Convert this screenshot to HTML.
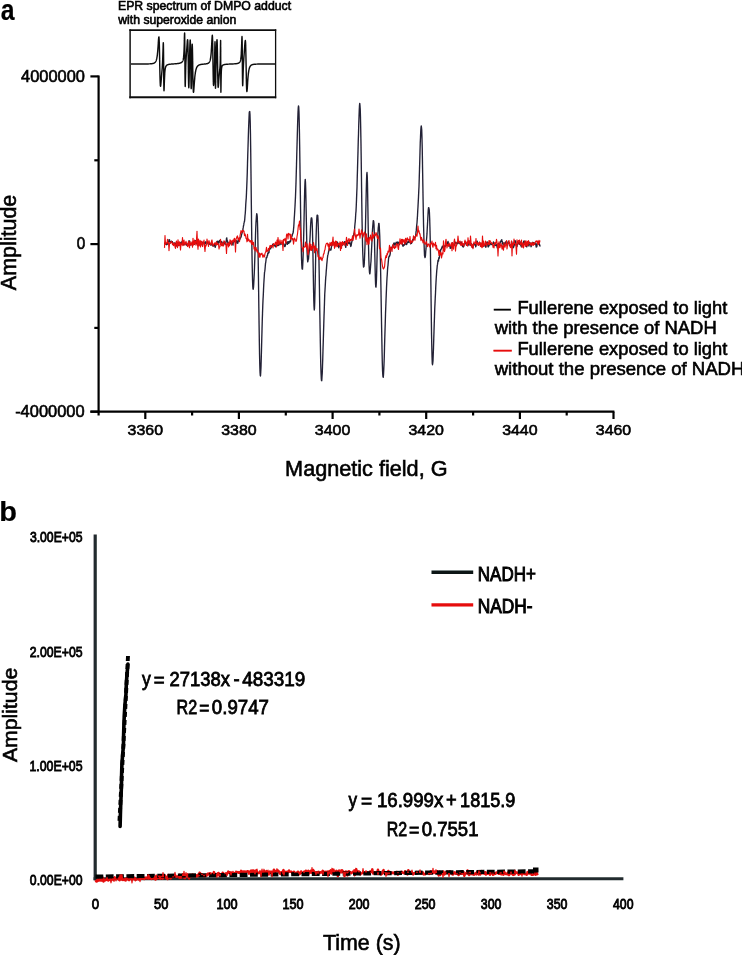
<!DOCTYPE html>
<html><head><meta charset="utf-8"><title>EPR figure</title>
<style>html,body{margin:0;padding:0;background:#fff;}svg{display:block;}</style>
</head><body>
<svg width="742" height="955" viewBox="0 0 742 955"><defs><filter id="soft" x="0" y="0" width="100%" height="100%"><feGaussianBlur stdDeviation="0.4"/></filter></defs><rect width="742" height="955" fill="#fff"/><g filter="url(#soft)"><g font-family='"Liberation Sans", sans-serif' fill="#000" stroke="#000" stroke-width="0.6"><text x="0.67" y="20.3" font-size="30.0" font-weight="bold" textLength="13.77" lengthAdjust="spacingAndGlyphs" stroke-width="0.2">a</text><text x="-0.71" y="521.4" font-size="27.5" font-weight="bold" textLength="17.7" lengthAdjust="spacingAndGlyphs" stroke-width="0.2">b</text><text x="117.99" y="9.7" font-size="12.3" textLength="173.1" lengthAdjust="spacingAndGlyphs">EPR spectrum of DMPO adduct</text><text x="118.32" y="24.0" font-size="12.3" textLength="117.97" lengthAdjust="spacingAndGlyphs">with superoxide anion</text></g><g stroke="#111" fill="none"><line x1="129.3" y1="30.1" x2="276.2" y2="30.1" stroke-width="1.7"/><line x1="129.3" y1="97.3" x2="276.2" y2="97.3" stroke-width="2.1"/><line x1="130.1" y1="29.3" x2="130.1" y2="98.3" stroke-width="1.5"/><line x1="275.6" y1="29.3" x2="275.6" y2="98.3" stroke-width="1.3"/></g><polyline points="131.00,63.99 131.10,63.99 131.20,63.99 131.30,63.99 131.40,63.99 131.50,63.99 131.60,63.99 131.70,63.99 131.80,63.99 131.90,63.99 132.00,63.99 132.10,63.99 132.20,63.99 132.30,63.99 132.40,63.99 132.50,63.99 132.60,63.99 132.70,63.99 132.80,63.99 132.90,63.99 133.00,63.99 133.10,63.99 133.20,63.99 133.30,63.99 133.40,63.99 133.50,63.99 133.60,63.99 133.70,63.99 133.80,63.99 133.90,63.99 134.00,63.99 134.10,63.99 134.20,63.99 134.30,63.99 134.40,63.99 134.50,63.99 134.60,63.99 134.70,63.99 134.80,63.99 134.90,63.99 135.00,63.99 135.10,63.99 135.20,63.99 135.30,63.99 135.40,63.99 135.50,63.99 135.60,63.99 135.70,63.99 135.80,63.99 135.90,63.99 136.00,63.99 136.10,63.99 136.20,63.99 136.30,63.99 136.40,63.99 136.50,63.99 136.60,63.99 136.70,63.99 136.80,63.99 136.90,63.99 137.00,63.99 137.10,63.99 137.20,63.99 137.30,63.99 137.40,63.99 137.50,63.99 137.60,63.99 137.70,63.99 137.80,63.99 137.90,63.99 138.00,63.99 138.10,63.99 138.20,63.99 138.30,63.99 138.40,63.99 138.50,63.99 138.60,63.99 138.70,63.99 138.80,63.99 138.90,63.99 139.00,63.99 139.10,63.98 139.20,63.98 139.30,63.98 139.40,63.98 139.50,63.98 139.60,63.98 139.70,63.98 139.80,63.98 139.90,63.98 140.00,63.98 140.10,63.98 140.20,63.98 140.30,63.98 140.40,63.98 140.50,63.98 140.60,63.98 140.70,63.98 140.80,63.98 140.90,63.98 141.00,63.98 141.10,63.98 141.20,63.98 141.30,63.98 141.40,63.98 141.50,63.98 141.60,63.98 141.70,63.98 141.80,63.98 141.90,63.98 142.00,63.98 142.10,63.98 142.20,63.98 142.30,63.98 142.40,63.98 142.50,63.97 142.60,63.97 142.70,63.97 142.80,63.97 142.90,63.97 143.00,63.97 143.10,63.97 143.20,63.97 143.30,63.97 143.40,63.97 143.50,63.97 143.60,63.97 143.70,63.97 143.80,63.97 143.90,63.97 144.00,63.97 144.10,63.97 144.20,63.97 144.30,63.96 144.40,63.96 144.50,63.96 144.60,63.96 144.70,63.96 144.80,63.96 144.90,63.96 145.00,63.96 145.10,63.96 145.20,63.96 145.30,63.96 145.40,63.96 145.50,63.95 145.60,63.95 145.70,63.95 145.80,63.95 145.90,63.95 146.00,63.95 146.10,63.95 146.20,63.95 146.30,63.95 146.40,63.94 146.50,63.94 146.60,63.94 146.70,63.94 146.80,63.94 146.90,63.94 147.00,63.93 147.10,63.93 147.20,63.93 147.30,63.93 147.40,63.93 147.50,63.93 147.60,63.92 147.70,63.92 147.80,63.92 147.90,63.92 148.00,63.91 148.10,63.91 148.20,63.91 148.30,63.91 148.40,63.90 148.50,63.90 148.60,63.90 148.70,63.90 148.80,63.89 148.90,63.89 149.00,63.89 149.10,63.88 149.20,63.88 149.30,63.87 149.40,63.87 149.50,63.87 149.60,63.86 149.70,63.86 149.80,63.85 149.90,63.85 150.00,63.84 150.10,63.84 150.20,63.83 150.30,63.83 150.40,63.82 150.50,63.81 150.60,63.81 150.70,63.80 150.80,63.79 150.90,63.78 151.00,63.77 151.10,63.77 151.20,63.76 151.30,63.75 151.40,63.74 151.50,63.73 151.60,63.72 151.70,63.70 151.80,63.69 151.90,63.68 152.00,63.67 152.10,63.65 152.20,63.64 152.30,63.62 152.40,63.60 152.50,63.58 152.60,63.57 152.70,63.55 152.80,63.52 152.90,63.50 153.00,63.48 153.10,63.45 153.20,63.43 153.30,63.40 153.40,63.37 153.50,63.33 153.60,63.30 153.70,63.26 153.80,63.22 153.90,63.18 154.00,63.13 154.10,63.09 154.20,63.03 154.30,62.98 154.40,62.92 154.50,62.86 154.60,62.79 154.70,62.71 154.80,62.63 154.90,62.55 155.00,62.45 155.10,62.35 155.20,62.24 155.30,62.12 155.40,62.00 155.50,61.86 155.60,61.70 155.70,61.54 155.80,61.36 155.90,61.16 156.00,60.95 156.10,60.71 156.20,60.45 156.30,60.17 156.40,59.86 156.50,59.52 156.60,59.14 156.70,58.73 156.80,58.27 156.90,57.77 157.00,57.21 157.10,56.60 157.20,55.92 157.30,55.17 157.40,54.35 157.50,53.45 157.60,52.46 157.70,51.38 157.80,50.20 157.90,48.93 158.00,47.57 158.10,46.13 158.20,44.62 158.30,43.08 158.40,41.56 158.50,40.10 158.60,38.80 158.70,37.75 158.80,37.08 158.90,36.92 159.00,37.42 159.10,38.69 159.20,40.84 159.30,43.89 159.40,47.80 159.50,52.41 159.60,57.51 159.70,62.81 159.80,68.00 159.90,72.79 160.00,76.97 160.10,80.38 160.20,82.97 160.30,84.75 160.40,85.79 160.50,86.20 160.60,86.08 160.70,85.57 160.80,84.75 160.90,83.74 161.00,82.59 161.10,81.36 161.20,80.10 161.30,78.84 161.40,77.59 161.50,76.36 161.60,75.16 161.70,73.98 161.80,72.82 161.90,71.66 162.00,70.50 162.10,69.30 162.20,68.04 162.30,66.68 162.40,65.20 162.50,63.52 162.60,61.60 162.70,59.37 162.80,56.77 162.90,53.76 163.00,50.41 163.10,46.96 163.20,44.02 163.30,42.70 163.40,44.52 163.50,50.75 163.60,61.11 163.70,73.09 163.80,83.15 163.90,89.03 164.00,90.72 164.10,89.51 164.20,86.86 164.30,83.78 164.40,80.83 164.50,78.22 164.60,76.01 164.70,74.19 164.80,72.69 164.90,71.47 165.00,70.46 165.10,69.64 165.20,68.95 165.30,68.38 165.40,67.90 165.50,67.49 165.60,67.14 165.70,66.85 165.80,66.59 165.90,66.36 166.00,66.17 166.10,66.00 166.20,65.84 166.30,65.71 166.40,65.59 166.50,65.48 166.60,65.38 166.70,65.29 166.80,65.21 166.90,65.13 167.00,65.07 167.10,65.00 167.20,64.95 167.30,64.89 167.40,64.85 167.50,64.80 167.60,64.76 167.70,64.72 167.80,64.68 167.90,64.65 168.00,64.61 168.10,64.58 168.20,64.55 168.30,64.53 168.40,64.50 168.50,64.48 168.60,64.45 168.70,64.43 168.80,64.41 168.90,64.39 169.00,64.37 169.10,64.35 169.20,64.34 169.30,64.32 169.40,64.30 169.50,64.29 169.60,64.27 169.70,64.26 169.80,64.24 169.90,64.23 170.00,64.22 170.10,64.21 170.20,64.19 170.30,64.18 170.40,64.17 170.50,64.16 170.60,64.15 170.70,64.14 170.80,64.13 170.90,64.12 171.00,64.11 171.10,64.10 171.20,64.09 171.30,64.08 171.40,64.07 171.50,64.07 171.60,64.06 171.70,64.05 171.80,64.04 171.90,64.03 172.00,64.03 172.10,64.02 172.20,64.01 172.30,64.00 172.40,63.99 172.50,63.99 172.60,63.98 172.70,63.97 172.80,63.97 172.90,63.96 173.00,63.95 173.10,63.94 173.20,63.94 173.30,63.93 173.40,63.92 173.50,63.92 173.60,63.91 173.70,63.90 173.80,63.90 173.90,63.89 174.00,63.88 174.10,63.87 174.20,63.87 174.30,63.86 174.40,63.85 174.50,63.85 174.60,63.84 174.70,63.83 174.80,63.82 174.90,63.82 175.00,63.81 175.10,63.80 175.20,63.79 175.30,63.79 175.40,63.78 175.50,63.77 175.60,63.76 175.70,63.75 175.80,63.75 175.90,63.74 176.00,63.73 176.10,63.72 176.20,63.71 176.30,63.70 176.40,63.69 176.50,63.68 176.60,63.67 176.70,63.66 176.80,63.65 176.90,63.64 177.00,63.63 177.10,63.62 177.20,63.61 177.30,63.60 177.40,63.59 177.50,63.57 177.60,63.56 177.70,63.55 177.80,63.54 177.90,63.52 178.00,63.51 178.10,63.50 178.20,63.48 178.30,63.47 178.40,63.45 178.50,63.43 178.60,63.42 178.70,63.40 178.80,63.38 178.90,63.36 179.00,63.35 179.10,63.33 179.20,63.30 179.30,63.28 179.40,63.26 179.50,63.24 179.60,63.21 179.70,63.19 179.80,63.16 179.90,63.14 180.00,63.11 180.10,63.08 180.20,63.05 180.30,63.01 180.40,62.98 180.50,62.94 180.60,62.91 180.70,62.87 180.80,62.82 180.90,62.78 181.00,62.73 181.10,62.68 181.20,62.63 181.30,62.57 181.40,62.51 181.50,62.45 181.60,62.38 181.70,62.30 181.80,62.22 181.90,62.14 182.00,62.04 182.10,61.94 182.20,61.82 182.30,61.70 182.40,61.56 182.50,61.41 182.60,61.23 182.70,61.04 182.80,60.82 182.90,60.57 183.00,60.28 183.10,59.95 183.20,59.56 183.30,59.10 183.40,58.54 183.50,57.88 183.60,57.07 183.70,56.08 183.80,54.85 183.90,53.30 184.00,51.36 184.10,48.93 184.20,45.92 184.30,42.33 184.40,38.36 184.50,34.73 184.60,32.99 184.70,35.59 184.80,44.66 184.90,59.19 185.00,74.06 185.10,83.72 185.20,86.58 185.30,84.62 185.40,80.49 185.50,75.93 185.60,71.76 185.70,68.21 185.80,65.25 185.90,62.79 186.00,60.71 186.10,58.89 186.20,57.27 186.30,55.78 186.40,54.36 186.50,52.98 186.60,51.62 186.70,50.24 186.80,48.84 186.90,47.42 187.00,45.99 187.10,44.56 187.20,43.17 187.30,41.88 187.40,40.79 187.50,40.01 187.60,39.70 187.70,40.07 187.80,41.34 187.90,43.73 188.00,47.40 188.10,52.39 188.20,58.54 188.30,65.43 188.40,72.42 188.50,78.75 188.60,83.70 188.70,86.77 188.80,87.78 188.90,86.85 189.00,84.31 189.10,80.60 189.20,76.15 189.30,71.31 189.40,66.36 189.50,61.48 189.60,56.82 189.70,52.48 189.80,48.56 189.90,45.17 190.00,42.47 190.10,40.67 190.20,40.00 190.30,40.75 190.40,43.17 190.50,47.41 190.60,53.40 190.70,60.79 190.80,68.86 190.90,76.62 191.00,83.02 191.10,87.17 191.20,88.59 191.30,87.23 191.40,83.50 191.50,78.02 191.60,71.50 191.70,64.66 191.80,58.13 191.90,52.42 192.00,47.98 192.10,45.17 192.20,44.20 192.30,45.16 192.40,47.99 192.50,52.40 192.60,57.99 192.70,64.21 192.80,70.53 192.90,76.44 193.00,81.58 193.10,85.73 193.20,88.80 193.30,90.83 193.40,91.94 193.50,92.26 193.60,91.98 193.70,91.24 193.80,90.18 193.90,88.92 194.00,87.53 194.10,86.09 194.20,84.66 194.30,83.25 194.40,81.89 194.50,80.61 194.60,79.40 194.70,78.27 194.80,77.23 194.90,76.26 195.00,75.36 195.10,74.53 195.20,73.78 195.30,73.08 195.40,72.44 195.50,71.85 195.60,71.31 195.70,70.81 195.80,70.35 195.90,69.93 196.00,69.54 196.10,69.19 196.20,68.86 196.30,68.55 196.40,68.27 196.50,68.01 196.60,67.77 196.70,67.55 196.80,67.34 196.90,67.15 197.00,66.97 197.10,66.80 197.20,66.65 197.30,66.51 197.40,66.37 197.50,66.24 197.60,66.13 197.70,66.02 197.80,65.91 197.90,65.82 198.00,65.73 198.10,65.64 198.20,65.56 198.30,65.49 198.40,65.41 198.50,65.35 198.60,65.28 198.70,65.22 198.80,65.17 198.90,65.12 199.00,65.07 199.10,65.02 199.20,64.97 199.30,64.93 199.40,64.89 199.50,64.85 199.60,64.82 199.70,64.78 199.80,64.75 199.90,64.72 200.00,64.69 200.10,64.66 200.20,64.63 200.30,64.61 200.40,64.58 200.50,64.56 200.60,64.53 200.70,64.51 200.80,64.49 200.90,64.47 201.00,64.45 201.10,64.43 201.20,64.42 201.30,64.40 201.40,64.38 201.50,64.37 201.60,64.35 201.70,64.34 201.80,64.32 201.90,64.31 202.00,64.30 202.10,64.29 202.20,64.27 202.30,64.26 202.40,64.25 202.50,64.24 202.60,64.23 202.70,64.22 202.80,64.21 202.90,64.20 203.00,64.19 203.10,64.18 203.20,64.17 203.30,64.16 203.40,64.15 203.50,64.14 203.60,64.13 203.70,64.12 203.80,64.11 203.90,64.10 204.00,64.09 204.10,64.08 204.20,64.07 204.30,64.06 204.40,64.05 204.50,64.04 204.60,64.04 204.70,64.03 204.80,64.02 204.90,64.01 205.00,64.00 205.10,63.99 205.20,63.98 205.30,63.96 205.40,63.95 205.50,63.94 205.60,63.93 205.70,63.92 205.80,63.90 205.90,63.89 206.00,63.88 206.10,63.86 206.20,63.85 206.30,63.83 206.40,63.81 206.50,63.80 206.60,63.78 206.70,63.76 206.80,63.74 206.90,63.71 207.00,63.69 207.10,63.67 207.20,63.64 207.30,63.61 207.40,63.58 207.50,63.55 207.60,63.51 207.70,63.48 207.80,63.44 207.90,63.39 208.00,63.35 208.10,63.30 208.20,63.24 208.30,63.19 208.40,63.12 208.50,63.05 208.60,62.98 208.70,62.90 208.80,62.81 208.90,62.71 209.00,62.61 209.10,62.49 209.20,62.36 209.30,62.22 209.40,62.07 209.50,61.89 209.60,61.70 209.70,61.49 209.80,61.26 209.90,61.00 210.00,60.71 210.10,60.38 210.20,60.02 210.30,59.61 210.40,59.15 210.50,58.64 210.60,58.06 210.70,57.40 210.80,56.66 210.90,55.83 211.00,54.89 211.10,53.83 211.20,52.64 211.30,51.30 211.40,49.82 211.50,48.18 211.60,46.40 211.70,44.49 211.80,42.50 211.90,40.50 212.00,38.59 212.10,36.95 212.20,35.77 212.30,35.32 212.40,35.86 212.50,37.65 212.60,40.84 212.70,45.43 212.80,51.20 212.90,57.73 213.00,64.46 213.10,70.79 213.20,76.23 213.30,80.44 213.40,83.33 213.50,84.93 213.60,85.42 213.70,85.00 213.80,83.89 213.90,82.27 214.00,80.27 214.10,77.96 214.20,75.38 214.30,72.49 214.40,69.21 214.50,65.41 214.60,60.94 214.70,55.69 214.80,49.84 214.90,44.36 215.00,41.70 215.10,45.56 215.20,57.66 215.30,73.41 215.40,84.75 215.50,88.20 215.60,85.88 215.70,81.08 215.80,75.83 215.90,70.96 216.00,66.63 216.10,62.77 216.20,59.24 216.30,55.94 216.40,52.78 216.50,49.73 216.60,46.83 216.70,44.16 216.80,41.91 216.90,40.32 217.00,39.71 217.10,40.42 217.20,42.71 217.30,46.69 217.40,52.20 217.50,58.77 217.60,65.75 217.70,72.40 217.80,78.10 217.90,82.46 218.00,85.38 218.10,86.95 218.20,87.41 218.30,87.04 218.40,86.10 218.50,84.80 218.60,83.33 218.70,81.79 218.80,80.26 218.90,78.80 219.00,77.42 219.10,76.14 219.20,74.97 219.30,73.88 219.40,72.87 219.50,71.92 219.60,71.02 219.70,70.12 219.80,69.19 219.90,68.17 220.00,66.96 220.10,65.36 220.20,63.09 220.30,59.61 220.40,54.11 220.50,46.26 220.60,40.50 220.70,52.49 220.80,81.11 220.90,92.30 221.00,87.15 221.10,80.11 221.20,75.15 221.30,72.03 221.40,70.06 221.50,68.78 221.60,67.91 221.70,67.30 221.80,66.85 221.90,66.51 222.00,66.24 222.10,66.03 222.20,65.85 222.30,65.70 222.40,65.58 222.50,65.47 222.60,65.37 222.70,65.29 222.80,65.21 222.90,65.15 223.00,65.08 223.10,65.03 223.20,64.98 223.30,64.93 223.40,64.89 223.50,64.85 223.60,64.81 223.70,64.77 223.80,64.74 223.90,64.71 224.00,64.68 224.10,64.65 224.20,64.63 224.30,64.60 224.40,64.58 224.50,64.56 224.60,64.53 224.70,64.51 224.80,64.50 224.90,64.48 225.00,64.46 225.10,64.44 225.20,64.43 225.30,64.41 225.40,64.40 225.50,64.39 225.60,64.37 225.70,64.36 225.80,64.35 225.90,64.34 226.00,64.32 226.10,64.31 226.20,64.30 226.30,64.29 226.40,64.28 226.50,64.27 226.60,64.26 226.70,64.26 226.80,64.25 226.90,64.24 227.00,64.23 227.10,64.22 227.20,64.21 227.30,64.21 227.40,64.20 227.50,64.19 227.60,64.19 227.70,64.18 227.80,64.17 227.90,64.17 228.00,64.16 228.10,64.15 228.20,64.15 228.30,64.14 228.40,64.14 228.50,64.13 228.60,64.13 228.70,64.12 228.80,64.12 228.90,64.11 229.00,64.11 229.10,64.10 229.20,64.10 229.30,64.09 229.40,64.09 229.50,64.08 229.60,64.08 229.70,64.07 229.80,64.07 229.90,64.06 230.00,64.06 230.10,64.05 230.20,64.05 230.30,64.05 230.40,64.04 230.50,64.04 230.60,64.03 230.70,64.03 230.80,64.02 230.90,64.02 231.00,64.02 231.10,64.01 231.20,64.01 231.30,64.00 231.40,64.00 231.50,63.99 231.60,63.99 231.70,63.99 231.80,63.98 231.90,63.98 232.00,63.97 232.10,63.97 232.20,63.96 232.30,63.96 232.40,63.95 232.50,63.95 232.60,63.95 232.70,63.94 232.80,63.94 232.90,63.93 233.00,63.93 233.10,63.92 233.20,63.92 233.30,63.91 233.40,63.91 233.50,63.90 233.60,63.89 233.70,63.89 233.80,63.88 233.90,63.88 234.00,63.87 234.10,63.86 234.20,63.86 234.30,63.85 234.40,63.85 234.50,63.84 234.60,63.83 234.70,63.82 234.80,63.82 234.90,63.81 235.00,63.80 235.10,63.79 235.20,63.78 235.30,63.78 235.40,63.77 235.50,63.76 235.60,63.75 235.70,63.74 235.80,63.73 235.90,63.72 236.00,63.70 236.10,63.69 236.20,63.68 236.30,63.67 236.40,63.65 236.50,63.64 236.60,63.62 236.70,63.61 236.80,63.59 236.90,63.58 237.00,63.56 237.10,63.54 237.20,63.52 237.30,63.50 237.40,63.48 237.50,63.46 237.60,63.43 237.70,63.41 237.80,63.38 237.90,63.35 238.00,63.32 238.10,63.29 238.20,63.25 238.30,63.21 238.40,63.17 238.50,63.13 238.60,63.08 238.70,63.03 238.80,62.98 238.90,62.92 239.00,62.85 239.10,62.78 239.20,62.71 239.30,62.62 239.40,62.53 239.50,62.43 239.60,62.32 239.70,62.19 239.80,62.05 239.90,61.89 240.00,61.71 240.10,61.50 240.20,61.27 240.30,61.00 240.40,60.69 240.50,60.33 240.60,59.91 240.70,59.41 240.80,58.81 240.90,58.10 241.00,57.24 241.10,56.20 241.20,54.94 241.30,53.39 241.40,51.52 241.50,49.25 241.60,46.58 241.70,43.56 241.80,40.42 241.90,37.72 242.00,36.51 242.10,38.23 242.20,44.24 242.30,54.51 242.40,66.79 242.50,77.46 242.60,83.91 242.70,85.81 242.80,84.43 242.90,81.36 243.00,77.75 243.10,74.22 243.20,71.04 243.30,68.27 243.40,65.88 243.50,63.81 243.60,61.99 243.70,60.35 243.80,58.84 243.90,57.42 244.00,56.04 244.10,54.70 244.20,53.35 244.30,51.99 244.40,50.61 244.50,49.21 244.60,47.79 244.70,46.37 244.80,44.98 244.90,43.66 245.00,42.46 245.10,41.47 245.20,40.79 245.30,40.53 245.40,40.83 245.50,41.83 245.60,43.63 245.70,46.33 245.80,49.94 245.90,54.40 246.00,59.52 246.10,65.06 246.20,70.69 246.30,76.06 246.40,80.87 246.50,84.87 246.60,87.93 246.70,90.01 246.80,91.17 246.90,91.53 247.00,91.22 247.10,90.41 247.20,89.24 247.30,87.84 247.40,86.30 247.50,84.72 247.60,83.15 247.70,81.62 247.80,80.17 247.90,78.80 248.00,77.54 248.10,76.37 248.20,75.30 248.30,74.33 248.40,73.44 248.50,72.64 248.60,71.91 248.70,71.25 248.80,70.65 248.90,70.11 249.00,69.62 249.10,69.17 249.20,68.77 249.30,68.40 249.40,68.07 249.50,67.77 249.60,67.49 249.70,67.24 249.80,67.01 249.90,66.80 250.00,66.61 250.10,66.43 250.20,66.27 250.30,66.12 250.40,65.99 250.50,65.86 250.60,65.74 250.70,65.64 250.80,65.54 250.90,65.45 251.00,65.36 251.10,65.28 251.20,65.21 251.30,65.14 251.40,65.08 251.50,65.02 251.60,64.97 251.70,64.91 251.80,64.87 251.90,64.82 252.00,64.78 252.10,64.74 252.20,64.70 252.30,64.67 252.40,64.64 252.50,64.61 252.60,64.58 252.70,64.55 252.80,64.53 252.90,64.50 253.00,64.48 253.10,64.46 253.20,64.44 253.30,64.42 253.40,64.40 253.50,64.38 253.60,64.37 253.70,64.35 253.80,64.34 253.90,64.32 254.00,64.31 254.10,64.30 254.20,64.29 254.30,64.28 254.40,64.27 254.50,64.25 254.60,64.25 254.70,64.24 254.80,64.23 254.90,64.22 255.00,64.21 255.10,64.20 255.20,64.20 255.30,64.19 255.40,64.18 255.50,64.18 255.60,64.17 255.70,64.16 255.80,64.16 255.90,64.15 256.00,64.15 256.10,64.14 256.20,64.14 256.30,64.13 256.40,64.13 256.50,64.13 256.60,64.12 256.70,64.12 256.80,64.11 256.90,64.11 257.00,64.11 257.10,64.10 257.20,64.10 257.30,64.10 257.40,64.09 257.50,64.09 257.60,64.09 257.70,64.09 257.80,64.08 257.90,64.08 258.00,64.08 258.10,64.08 258.20,64.07 258.30,64.07 258.40,64.07 258.50,64.07 258.60,64.07 258.70,64.06 258.80,64.06 258.90,64.06 259.00,64.06 259.10,64.06 259.20,64.06 259.30,64.06 259.40,64.05 259.50,64.05 259.60,64.05 259.70,64.05 259.80,64.05 259.90,64.05 260.00,64.05 260.10,64.04 260.20,64.04 260.30,64.04 260.40,64.04 260.50,64.04 260.60,64.04 260.70,64.04 260.80,64.04 260.90,64.04 261.00,64.04 261.10,64.03 261.20,64.03 261.30,64.03 261.40,64.03 261.50,64.03 261.60,64.03 261.70,64.03 261.80,64.03 261.90,64.03 262.00,64.03 262.10,64.03 262.20,64.03 262.30,64.03 262.40,64.03 262.50,64.03 262.60,64.02 262.70,64.02 262.80,64.02 262.90,64.02 263.00,64.02 263.10,64.02 263.20,64.02 263.30,64.02 263.40,64.02 263.50,64.02 263.60,64.02 263.70,64.02 263.80,64.02 263.90,64.02 264.00,64.02 264.10,64.02 264.20,64.02 264.30,64.02 264.40,64.02 264.50,64.02 264.60,64.02 264.70,64.02 264.80,64.02 264.90,64.02 265.00,64.01 265.10,64.01 265.20,64.01 265.30,64.01 265.40,64.01 265.50,64.01 265.60,64.01 265.70,64.01 265.80,64.01 265.90,64.01 266.00,64.01 266.10,64.01 266.20,64.01 266.30,64.01 266.40,64.01 266.50,64.01 266.60,64.01 266.70,64.01 266.80,64.01 266.90,64.01 267.00,64.01 267.10,64.01 267.20,64.01 267.30,64.01 267.40,64.01 267.50,64.01 267.60,64.01 267.70,64.01 267.80,64.01 267.90,64.01 268.00,64.01 268.10,64.01 268.20,64.01 268.30,64.01 268.40,64.01 268.50,64.01 268.60,64.01 268.70,64.01 268.80,64.01 268.90,64.01 269.00,64.01 269.10,64.01 269.20,64.01 269.30,64.01 269.40,64.01 269.50,64.01 269.60,64.01 269.70,64.01 269.80,64.01 269.90,64.01 270.00,64.01 270.10,64.01 270.20,64.01 270.30,64.01 270.40,64.01 270.50,64.01 270.60,64.01 270.70,64.01 270.80,64.01 270.90,64.00 271.00,64.00 271.10,64.00 271.20,64.00 271.30,64.00 271.40,64.00 271.50,64.00 271.60,64.00 271.70,64.00 271.80,64.00 271.90,64.00 272.00,64.00 272.10,64.00 272.20,64.00 272.30,64.00 272.40,64.00 272.50,64.00 272.60,64.00 272.70,64.00 272.80,64.00 272.90,64.00 273.00,64.00 273.10,64.00 273.20,64.00 273.30,64.00 273.40,64.00 273.50,64.00 273.60,64.00 273.70,64.00 273.80,64.00 273.90,64.00 274.00,64.00 274.10,64.00 274.20,64.00 274.30,64.00 274.40,64.00 274.50,64.00 274.60,64.00 274.70,64.00 274.80,64.00 274.90,64.00 275.00,64.00 275.10,64.00" fill="none" stroke="#111" stroke-width="1.45" stroke-linejoin="round"/><g stroke="#000" stroke-width="2.2" fill="none"><line x1="98.6" y1="75.6" x2="98.6" y2="415.5"/><line x1="90.4" y1="411.7" x2="614.4" y2="411.7"/><line x1="90.4" y1="76.4" x2="98.6" y2="76.4"/><line x1="90.4" y1="244.1" x2="98.6" y2="244.1"/><line x1="90.4" y1="411.7" x2="98.6" y2="411.7"/><line x1="94.3" y1="160.3" x2="98.6" y2="160.3"/><line x1="94.3" y1="327.9" x2="98.6" y2="327.9"/><line x1="145.3" y1="411.7" x2="145.3" y2="419"/><line x1="238.9" y1="411.7" x2="238.9" y2="419"/><line x1="192.1" y1="411.7" x2="192.1" y2="415.5"/><line x1="332.6" y1="411.7" x2="332.6" y2="419"/><line x1="285.8" y1="411.7" x2="285.8" y2="415.5"/><line x1="426.2" y1="411.7" x2="426.2" y2="419"/><line x1="379.4" y1="411.7" x2="379.4" y2="415.5"/><line x1="519.9" y1="411.7" x2="519.9" y2="419"/><line x1="473.1" y1="411.7" x2="473.1" y2="415.5"/><line x1="613.5" y1="411.7" x2="613.5" y2="419"/><line x1="566.7" y1="411.7" x2="566.7" y2="415.5"/></g><g font-family='"Liberation Sans", sans-serif' fill="#000" stroke="#000" stroke-width="0.6"><text x="21.12" y="82.2" font-size="15.9" textLength="63.82" lengthAdjust="spacingAndGlyphs">4000000</text><text x="76.8" y="249.3" font-size="15.9" textLength="8.49" lengthAdjust="spacingAndGlyphs">0</text><text x="15.17" y="417.3" font-size="15.9" textLength="69.37" lengthAdjust="spacingAndGlyphs">-4000000</text><text x="127.59" y="434.8" font-size="15.2" textLength="35.43" lengthAdjust="spacingAndGlyphs">3360</text><text x="221.23" y="434.8" font-size="15.2" textLength="35.43" lengthAdjust="spacingAndGlyphs">3380</text><text x="314.87" y="434.8" font-size="15.2" textLength="35.43" lengthAdjust="spacingAndGlyphs">3400</text><text x="408.51" y="434.8" font-size="15.2" textLength="35.43" lengthAdjust="spacingAndGlyphs">3420</text><text x="502.15" y="434.8" font-size="15.2" textLength="35.43" lengthAdjust="spacingAndGlyphs">3440</text><text x="595.79" y="434.8" font-size="15.2" textLength="35.43" lengthAdjust="spacingAndGlyphs">3460</text><text transform="translate(15.6,290.7) rotate(-90)" x="0.56" y="0" font-size="21.5" textLength="95.4" lengthAdjust="spacingAndGlyphs">Amplitude</text><text x="285.12" y="476.4" font-size="21.5" textLength="162.39" lengthAdjust="spacingAndGlyphs">Magnetic field, G</text><text x="494.0" y="313.5" font-size="18.2" textLength="16.7" lengthAdjust="spacingAndGlyphs">—</text><text x="517.4" y="313.5" font-size="18.2" textLength="209.94" lengthAdjust="spacingAndGlyphs">Fullerene exposed to light</text><text x="494.73" y="334.1" font-size="18.2" textLength="221.97" lengthAdjust="spacingAndGlyphs">with the presence of NADH</text><text x="493.7" y="354.8" font-size="18.2" textLength="17.8" lengthAdjust="spacingAndGlyphs" fill="#e60c0c" stroke="#e60c0c">—</text><text x="517.4" y="354.8" font-size="18.2" textLength="209.94" lengthAdjust="spacingAndGlyphs">Fullerene exposed to light</text><text x="494.73" y="374.9" font-size="18.2" textLength="249.69" lengthAdjust="spacingAndGlyphs">without the presence of NADH</text></g><polyline points="164.50,244.00 164.75,243.43 165.00,243.14 165.25,242.50 165.50,242.35 165.75,243.38 166.00,243.64 166.25,243.53 166.50,244.48 166.75,244.67 167.00,243.88 167.25,243.60 167.50,243.98 167.75,244.11 168.00,243.02 168.25,242.66 168.50,242.04 168.75,241.23 169.00,239.61 169.25,240.32 169.50,239.80 169.75,241.19 170.00,242.11 170.25,243.17 170.50,241.71 170.75,242.18 171.00,241.97 171.25,241.95 171.50,241.09 171.75,242.39 172.00,242.11 172.25,241.62 172.50,242.23 172.75,242.69 173.00,242.98 173.25,244.17 173.50,244.31 173.75,243.56 174.00,244.15 174.25,244.21 174.50,242.86 174.75,243.28 175.00,244.22 175.25,243.16 175.50,243.67 175.75,244.53 176.00,244.07 176.25,244.48 176.50,245.96 176.75,244.64 177.00,244.61 177.25,245.39 177.50,243.99 177.75,243.94 178.00,244.66 178.25,245.04 178.50,245.59 178.75,245.28 179.00,244.98 179.25,244.72 179.50,244.38 179.75,242.69 180.00,242.76 180.25,242.50 180.50,243.37 180.75,244.02 181.00,243.94 181.25,243.80 181.50,244.34 181.75,242.49 182.00,241.46 182.25,242.24 182.50,243.55 182.75,243.58 183.00,244.65 183.25,244.71 183.50,244.61 183.75,244.78 184.00,244.06 184.25,244.08 184.50,244.54 184.75,244.62 185.00,243.52 185.25,243.08 185.50,243.27 185.75,242.76 186.00,243.58 186.25,244.12 186.50,244.82 186.75,245.26 187.00,245.32 187.25,245.25 187.50,244.83 187.75,245.21 188.00,243.96 188.25,244.40 188.50,242.65 188.75,241.35 189.00,240.78 189.25,241.03 189.50,240.91 189.75,243.43 190.00,244.20 190.25,243.99 190.50,244.70 190.75,244.91 191.00,243.36 191.25,243.76 191.50,244.61 191.75,244.81 192.00,243.83 192.25,243.89 192.50,244.04 192.75,242.92 193.00,242.75 193.25,242.86 193.50,243.54 193.75,243.64 194.00,244.37 194.25,243.82 194.50,244.30 194.75,242.39 195.00,241.55 195.25,241.72 195.50,240.74 195.75,241.35 196.00,241.51 196.25,242.72 196.50,241.95 196.75,243.81 197.00,243.35 197.25,243.48 197.50,243.80 197.75,245.26 198.00,244.72 198.25,244.46 198.50,245.34 198.75,243.91 199.00,243.69 199.25,243.39 199.50,243.53 199.75,243.12 200.00,243.34 200.25,241.82 200.50,242.97 200.75,242.91 201.00,244.03 201.25,244.44 201.50,244.81 201.75,243.80 202.00,243.54 202.25,242.92 202.50,242.67 202.75,242.92 203.00,242.25 203.25,242.09 203.50,243.14 203.75,242.95 204.00,242.47 204.25,243.56 204.50,244.98 204.75,242.99 205.00,243.28 205.25,243.55 205.50,242.21 205.75,241.78 206.00,242.69 206.25,242.87 206.50,242.79 206.75,244.21 207.00,243.39 207.25,243.31 207.50,242.55 207.75,242.26 208.00,242.82 208.25,242.84 208.50,243.11 208.75,243.80 209.00,244.29 209.25,243.11 209.50,243.84 209.75,243.45 210.00,243.38 210.25,243.67 210.50,244.75 210.75,244.78 211.00,245.21 211.25,244.94 211.50,244.04 211.75,243.90 212.00,244.08 212.25,243.74 212.50,244.44 212.75,245.82 213.00,245.75 213.25,245.71 213.50,245.51 213.75,246.13 214.00,244.83 214.25,244.84 214.50,244.57 214.75,245.41 215.00,245.64 215.25,247.39 215.50,246.10 215.75,244.70 216.00,244.66 216.25,242.80 216.50,241.84 216.75,243.10 217.00,243.13 217.25,241.25 217.50,242.06 217.75,242.09 218.00,241.39 218.25,242.46 218.50,243.26 218.75,242.12 219.00,241.98 219.25,241.51 219.50,240.42 219.75,241.29 220.00,242.21 220.25,242.57 220.50,242.55 220.75,243.18 221.00,242.21 221.25,241.67 221.50,241.53 221.75,241.65 222.00,242.29 222.25,243.14 222.50,244.99 222.75,243.97 223.00,245.03 223.25,244.73 223.50,244.50 223.75,242.26 224.00,242.85 224.25,242.74 224.50,242.73 224.75,242.78 225.00,243.51 225.25,244.53 225.50,244.03 225.75,242.66 226.00,242.15 226.25,241.06 226.50,238.22 226.75,237.88 227.00,240.12 227.25,240.57 227.50,241.06 227.75,242.52 228.00,243.56 228.25,242.79 228.50,242.77 228.75,243.46 229.00,244.06 229.25,243.83 229.50,244.05 229.75,244.13 230.00,243.46 230.25,243.74 230.50,242.75 230.75,243.06 231.00,242.07 231.25,242.61 231.50,242.24 231.75,241.79 232.00,242.14 232.25,243.85 232.50,243.59 232.75,244.03 233.00,245.07 233.25,242.23 233.50,241.40 233.75,241.59 234.00,241.08 234.25,240.08 234.50,241.50 234.75,241.14 235.00,241.85 235.25,241.92 235.50,242.51 235.75,243.56 236.00,243.20 236.25,242.07 236.50,240.57 236.75,241.44 237.00,240.93 237.25,241.72 237.50,242.23 237.75,243.28 238.00,242.23 238.25,241.24 238.50,240.30 238.75,239.67 239.00,240.30 239.25,240.24 239.50,240.06 239.75,239.49 240.00,238.69 240.25,238.36 240.50,237.90 240.75,237.52 241.00,237.16 241.25,236.30 241.50,234.63 241.75,234.20 242.00,233.17 242.25,232.44 242.50,232.12 242.75,231.25 243.00,228.58 243.25,227.47 243.50,225.73 243.75,224.94 244.00,222.71 244.25,222.24 244.50,221.29 244.75,219.31 245.00,215.76 245.25,213.45 245.50,209.81 245.75,204.53 246.00,200.91 246.25,197.99 246.50,192.57 246.75,186.73 247.00,180.39 247.25,173.37 247.50,163.74 247.75,155.11 248.00,147.55 248.25,138.90 248.50,130.73 248.75,124.36 249.00,118.19 249.25,112.47 249.50,111.64 249.75,111.56 250.00,115.00 250.25,123.23 250.50,136.59 250.75,153.86 251.00,175.01 251.25,196.61 251.50,218.58 251.75,238.27 252.00,254.79 252.25,267.86 252.50,278.68 252.75,285.84 253.00,289.09 253.25,289.18 253.50,287.45 253.75,283.47 254.00,278.49 254.25,273.81 254.50,267.52 254.75,260.35 255.00,252.09 255.25,244.84 255.50,235.45 255.75,227.68 256.00,222.38 256.25,219.08 256.50,215.23 256.75,213.59 257.00,214.65 257.25,216.70 257.50,222.74 257.75,233.72 258.00,247.79 258.25,263.48 258.50,281.53 258.75,300.78 259.00,318.88 259.25,336.13 259.50,352.00 259.75,363.51 260.00,371.52 260.25,375.36 260.50,376.08 260.75,371.90 261.00,366.89 261.25,358.49 261.50,349.12 261.75,339.45 262.00,330.24 262.25,320.65 262.50,313.43 262.75,306.35 263.00,300.14 263.25,295.69 263.50,290.19 263.75,284.44 264.00,280.46 264.25,276.82 264.50,272.62 264.75,271.44 265.00,269.46 265.25,266.26 265.50,263.35 265.75,262.28 266.00,260.29 266.25,257.49 266.50,257.83 266.75,257.65 267.00,256.95 267.25,255.48 267.50,255.67 267.75,253.33 268.00,253.89 268.25,252.30 268.50,253.01 268.75,252.28 269.00,252.65 269.25,249.54 269.50,249.03 269.75,248.29 270.00,247.59 270.25,247.88 270.50,248.90 270.75,248.24 271.00,247.06 271.25,247.37 271.50,246.46 271.75,245.73 272.00,245.70 272.25,245.68 272.50,245.18 272.75,244.26 273.00,244.46 273.25,245.45 273.50,244.56 273.75,245.13 274.00,245.45 274.25,244.78 274.50,244.69 274.75,245.26 275.00,246.16 275.25,246.02 275.50,246.83 275.75,246.09 276.00,245.89 276.25,245.27 276.50,245.63 276.75,245.73 277.00,245.81 277.25,245.56 277.50,245.09 277.75,245.20 278.00,245.40 278.25,244.83 278.50,245.47 278.75,244.42 279.00,244.78 279.25,243.46 279.50,242.87 279.75,242.84 280.00,244.63 280.25,243.23 280.50,243.21 280.75,243.88 281.00,243.19 281.25,242.71 281.50,243.16 281.75,243.38 282.00,244.22 282.25,244.45 282.50,244.47 282.75,244.36 283.00,244.03 283.25,242.47 283.50,244.13 283.75,243.63 284.00,244.39 284.25,245.13 284.50,246.39 284.75,245.20 285.00,246.60 285.25,245.75 285.50,244.74 285.75,243.95 286.00,243.02 286.25,242.22 286.50,243.35 286.75,243.67 287.00,243.35 287.25,243.89 287.50,244.21 287.75,241.77 288.00,242.59 288.25,242.65 288.50,243.39 288.75,241.62 289.00,243.04 289.25,241.50 289.50,241.30 289.75,241.22 290.00,242.09 290.25,241.63 290.50,241.60 290.75,240.51 291.00,238.80 291.25,237.61 291.50,237.08 291.75,236.73 292.00,236.27 292.25,235.39 292.50,234.14 292.75,233.60 293.00,233.23 293.25,232.01 293.50,229.45 293.75,227.02 294.00,223.04 294.25,218.23 294.50,214.70 294.75,210.45 295.00,206.27 295.25,201.38 295.50,196.17 295.75,189.55 296.00,182.51 296.25,173.59 296.50,164.94 296.75,155.35 297.00,146.21 297.25,137.23 297.50,127.90 297.75,119.93 298.00,112.76 298.25,107.73 298.50,105.91 298.75,107.22 299.00,112.74 299.25,122.97 299.50,135.99 299.75,151.41 300.00,169.83 300.25,187.24 300.50,204.73 300.75,220.98 301.00,235.81 301.25,247.30 301.50,257.38 301.75,264.16 302.00,268.23 302.25,269.13 302.50,269.09 302.75,264.47 303.00,259.20 303.25,252.04 303.50,243.36 303.75,232.64 304.00,221.65 304.25,209.18 304.50,198.02 304.75,188.53 305.00,181.98 305.25,179.33 305.50,182.70 305.75,190.62 306.00,202.23 306.25,215.47 306.50,228.83 306.75,241.16 307.00,250.12 307.25,254.98 307.50,259.58 307.75,261.82 308.00,260.67 308.25,259.16 308.50,259.28 308.75,255.70 309.00,253.16 309.25,251.07 309.50,248.23 309.75,242.96 310.00,238.64 310.25,233.33 310.50,227.62 310.75,223.07 311.00,220.11 311.25,217.84 311.50,217.89 311.75,217.98 312.00,219.81 312.25,224.66 312.50,232.50 312.75,243.13 313.00,257.16 313.25,272.00 313.50,286.83 313.75,298.86 314.00,306.17 314.25,310.02 314.50,308.32 314.75,301.54 315.00,290.85 315.25,279.47 315.50,265.95 315.75,253.16 316.00,240.42 316.25,231.75 316.50,224.79 316.75,219.51 317.00,215.67 317.25,215.06 317.50,215.71 317.75,215.41 318.00,219.27 318.25,226.41 318.50,235.48 318.75,246.87 319.00,262.14 319.25,276.86 319.50,292.34 319.75,308.64 320.00,323.30 320.25,337.74 320.50,351.68 320.75,364.03 321.00,371.98 321.25,377.89 321.50,380.65 321.75,380.73 322.00,376.80 322.25,373.15 322.50,366.32 322.75,358.73 323.00,349.74 323.25,341.95 323.50,333.35 323.75,324.87 324.00,316.63 324.25,309.66 324.50,301.94 324.75,294.05 325.00,289.98 325.25,285.72 325.50,281.16 325.75,277.09 326.00,274.98 326.25,270.82 326.50,268.22 326.75,264.67 327.00,262.07 327.25,259.45 327.50,257.29 327.75,255.36 328.00,254.65 328.25,253.30 328.50,252.06 328.75,251.26 329.00,250.50 329.25,249.12 329.50,248.71 329.75,248.80 330.00,249.89 330.25,250.08 330.50,250.08 330.75,250.10 331.00,249.96 331.25,248.13 331.50,245.95 331.75,245.74 332.00,245.67 332.25,243.97 332.50,242.83 332.75,242.39 333.00,242.61 333.25,241.72 333.50,242.06 333.75,243.16 334.00,244.40 334.25,243.70 334.50,244.45 334.75,243.93 335.00,243.52 335.25,242.44 335.50,243.35 335.75,243.00 336.00,243.08 336.25,243.08 336.50,243.59 336.75,243.31 337.00,242.31 337.25,242.12 337.50,242.11 337.75,243.89 338.00,244.06 338.25,245.03 338.50,246.16 338.75,247.74 339.00,245.99 339.25,245.17 339.50,246.04 339.75,245.92 340.00,245.06 340.25,244.91 340.50,246.40 340.75,246.74 341.00,246.81 341.25,246.85 341.50,245.90 341.75,245.11 342.00,243.92 342.25,243.86 342.50,243.89 342.75,244.99 343.00,243.53 343.25,243.91 343.50,243.18 343.75,242.56 344.00,242.41 344.25,243.30 344.50,241.60 344.75,242.88 345.00,243.26 345.25,244.38 345.50,245.87 345.75,247.37 346.00,245.45 346.25,244.71 346.50,243.22 346.75,241.63 347.00,241.65 347.25,241.50 347.50,242.26 347.75,242.03 348.00,242.50 348.25,242.32 348.50,243.34 348.75,242.99 349.00,243.52 349.25,242.83 349.50,241.69 349.75,241.72 350.00,242.77 350.25,244.19 350.50,245.19 350.75,246.45 351.00,245.73 351.25,245.12 351.50,243.42 351.75,242.07 352.00,240.90 352.25,240.79 352.50,238.90 352.75,238.09 353.00,236.55 353.25,235.47 353.50,235.69 353.75,234.58 354.00,232.95 354.25,232.24 354.50,230.93 354.75,226.48 355.00,223.78 355.25,221.55 355.50,218.01 355.75,213.79 356.00,211.15 356.25,205.93 356.50,199.86 356.75,193.17 357.00,187.17 357.25,177.35 357.50,169.12 357.75,159.90 358.00,151.37 358.25,141.28 358.50,133.96 358.75,124.40 359.00,117.23 359.25,110.23 359.50,105.25 359.75,103.36 360.00,105.75 360.25,109.50 360.50,118.61 360.75,130.49 361.00,144.77 361.25,162.42 361.50,181.56 361.75,200.24 362.00,217.44 362.25,231.52 362.50,243.27 362.75,252.51 363.00,258.23 363.25,263.69 363.50,266.98 363.75,266.74 364.00,266.30 364.25,263.66 364.50,258.51 364.75,252.24 365.00,245.61 365.25,235.49 365.50,225.47 365.75,213.85 366.00,202.21 366.25,191.01 366.50,180.95 366.75,174.24 367.00,172.51 367.25,176.34 367.50,184.29 367.75,199.47 368.00,215.19 368.25,230.47 368.50,243.72 368.75,256.29 369.00,263.94 369.25,269.04 369.50,272.70 369.75,273.93 370.00,273.23 370.25,270.28 370.50,267.25 370.75,263.73 371.00,261.29 371.25,255.55 371.50,250.87 371.75,245.50 372.00,240.61 372.25,233.68 372.50,229.81 372.75,226.42 373.00,223.47 373.25,220.61 373.50,220.81 373.75,221.48 374.00,224.59 374.25,231.48 374.50,241.09 374.75,251.92 375.00,263.32 375.25,274.16 375.50,282.62 375.75,286.94 376.00,287.07 376.25,284.05 376.50,278.39 376.75,269.44 377.00,259.56 377.25,250.41 377.50,243.86 377.75,236.56 378.00,231.86 378.25,227.87 378.50,226.03 378.75,223.33 379.00,223.37 379.25,226.27 379.50,231.00 379.75,235.98 380.00,244.21 380.25,254.40 380.50,265.30 380.75,277.79 381.00,291.46 381.25,306.41 381.50,321.25 381.75,334.81 382.00,348.76 382.25,360.76 382.50,369.57 382.75,374.14 383.00,377.04 383.25,377.23 383.50,374.80 383.75,369.73 384.00,364.30 384.25,357.57 384.50,347.67 384.75,338.84 385.00,330.70 385.25,323.03 385.50,313.92 385.75,307.49 386.00,300.70 386.25,294.35 386.50,288.20 386.75,282.71 387.00,277.96 387.25,274.64 387.50,270.32 387.75,267.02 388.00,265.31 388.25,262.09 388.50,259.39 388.75,257.33 389.00,256.43 389.25,255.92 389.50,256.51 389.75,255.02 390.00,255.09 390.25,253.47 390.50,251.20 390.75,250.14 391.00,248.77 391.25,248.37 391.50,247.74 391.75,248.10 392.00,246.82 392.25,246.87 392.50,246.04 392.75,246.25 393.00,245.12 393.25,245.08 393.50,244.98 393.75,243.26 394.00,243.21 394.25,243.49 394.50,243.15 394.75,243.42 395.00,245.35 395.25,244.40 395.50,243.43 395.75,243.15 396.00,243.81 396.25,242.21 396.50,243.23 396.75,243.23 397.00,242.62 397.25,242.64 397.50,243.44 397.75,241.83 398.00,242.00 398.25,243.28 398.50,243.23 398.75,243.01 399.00,244.10 399.25,244.79 399.50,243.78 399.75,243.24 400.00,243.49 400.25,242.89 400.50,242.12 400.75,242.58 401.00,242.38 401.25,242.04 401.50,242.12 401.75,243.15 402.00,243.25 402.25,243.80 402.50,244.94 402.75,245.59 403.00,246.34 403.25,245.68 403.50,245.63 403.75,244.66 404.00,245.47 404.25,245.11 404.50,244.38 404.75,243.25 405.00,243.87 405.25,243.19 405.50,242.56 405.75,243.76 406.00,244.66 406.25,244.65 406.50,244.08 406.75,244.25 407.00,242.83 407.25,242.92 407.50,241.82 407.75,242.45 408.00,241.62 408.25,242.46 408.50,242.25 408.75,242.28 409.00,241.03 409.25,240.12 409.50,240.61 409.75,240.61 410.00,241.77 410.25,242.17 410.50,243.74 410.75,243.65 411.00,243.15 411.25,242.72 411.50,243.32 411.75,242.26 412.00,241.89 412.25,241.62 412.50,241.05 412.75,239.51 413.00,240.07 413.25,239.61 413.50,239.61 413.75,238.57 414.00,238.86 414.25,237.87 414.50,237.20 414.75,237.45 415.00,237.37 415.25,237.31 415.50,236.58 415.75,235.18 416.00,232.22 416.25,230.63 416.50,227.68 416.75,224.98 417.00,222.79 417.25,219.11 417.50,215.52 417.75,210.45 418.00,206.55 418.25,201.62 418.50,197.07 418.75,191.20 419.00,186.28 419.25,177.98 419.50,169.63 419.75,161.29 420.00,151.81 420.25,142.84 420.50,137.19 420.75,131.19 421.00,127.63 421.25,125.85 421.50,127.45 421.75,130.40 422.00,138.65 422.25,149.34 422.50,164.56 422.75,179.26 423.00,194.79 423.25,208.94 423.50,222.34 423.75,232.53 424.00,242.17 424.25,248.98 424.50,255.44 424.75,256.52 425.00,257.48 425.25,257.08 425.50,255.27 425.75,251.11 426.00,248.95 426.25,244.44 426.50,239.75 426.75,237.05 427.00,233.66 427.25,228.44 427.50,224.17 427.75,219.47 428.00,214.59 428.25,209.98 428.50,207.78 428.75,207.61 429.00,208.66 429.25,209.95 429.50,214.24 429.75,220.81 430.00,229.76 430.25,240.57 430.50,256.61 430.75,274.14 431.00,293.60 431.25,313.18 431.50,331.84 431.75,344.54 432.00,356.07 432.25,363.32 432.50,364.75 432.75,363.11 433.00,360.71 433.25,353.94 433.50,347.51 433.75,338.95 434.00,330.99 434.25,323.01 434.50,316.28 434.75,308.24 435.00,303.28 435.25,297.74 435.50,293.09 435.75,286.87 436.00,282.29 436.25,277.67 436.50,274.34 436.75,270.60 437.00,268.58 437.25,265.68 437.50,264.43 437.75,262.61 438.00,260.28 438.25,260.62 438.50,261.12 438.75,258.44 439.00,257.30 439.25,258.35 439.50,256.65 439.75,254.52 440.00,254.60 440.25,253.41 440.50,251.08 440.75,249.69 441.00,249.55 441.25,248.99 441.50,248.65 441.75,247.66 442.00,247.65 442.25,246.30 442.50,246.16 442.75,246.85 443.00,247.62 443.25,247.76 443.50,248.37 443.75,248.34 444.00,247.42 444.25,246.84 444.50,246.85 444.75,245.80 445.00,246.50 445.25,246.48 445.50,246.09 445.75,245.20 446.00,245.36 446.25,244.52 446.50,243.96 446.75,245.09 447.00,244.84 447.25,243.75 447.50,243.12 447.75,242.23 448.00,241.42 448.25,242.55 448.50,244.37 448.75,243.93 449.00,244.69 449.25,245.81 449.50,245.30 449.75,244.85 450.00,246.34 450.25,248.37 450.50,248.03 450.75,247.89 451.00,248.08 451.25,247.78 451.50,245.79 451.75,244.26 452.00,244.18 452.25,243.32 452.50,242.87 452.75,243.30 453.00,245.46 453.25,244.86 453.50,245.37 453.75,245.29 454.00,245.50 454.25,244.65 454.50,244.87 454.75,244.41 455.00,243.45 455.25,242.56 455.50,242.23 455.75,242.56 456.00,242.42 456.25,243.22 456.50,243.83 456.75,243.79 457.00,243.38 457.25,243.86 457.50,242.92 457.75,242.16 458.00,242.86 458.25,241.83 458.50,241.77 458.75,243.07 459.00,243.56 459.25,242.00 459.50,243.35 459.75,243.56 460.00,243.36 460.25,242.39 460.50,242.81 460.75,242.30 461.00,241.94 461.25,242.14 461.50,243.74 461.75,244.41 462.00,244.63 462.25,245.57 462.50,246.17 462.75,246.49 463.00,246.80 463.25,247.02 463.50,246.31 463.75,246.08 464.00,244.48 464.25,243.72 464.50,243.47 464.75,243.34 465.00,241.70 465.25,242.00 465.50,241.85 465.75,242.75 466.00,243.62 466.25,244.68 466.50,245.13 466.75,244.61 467.00,244.29 467.25,243.50 467.50,243.93 467.75,245.17 468.00,245.68 468.25,244.46 468.50,244.07 468.75,242.75 469.00,240.86 469.25,241.71 469.50,242.81 469.75,242.39 470.00,243.74 470.25,245.31 470.50,244.24 470.75,243.66 471.00,244.42 471.25,244.18 471.50,243.78 471.75,244.77 472.00,245.98 472.25,246.95 472.50,247.64 472.75,247.65 473.00,245.91 473.25,245.05 473.50,244.49 473.75,243.37 474.00,243.53 474.25,244.28 474.50,243.77 474.75,244.49 475.00,245.16 475.25,244.72 475.50,245.54 475.75,246.81 476.00,246.11 476.25,244.11 476.50,243.53 476.75,242.65 477.00,241.33 477.25,241.24 477.50,243.58 477.75,243.70 478.00,243.26 478.25,245.19 478.50,244.77 478.75,243.22 479.00,243.68 479.25,244.68 479.50,242.93 479.75,243.73 480.00,244.20 480.25,243.46 480.50,243.30 480.75,244.24 481.00,243.33 481.25,243.85 481.50,244.38 481.75,246.08 482.00,245.13 482.25,246.42 482.50,246.17 482.75,246.15 483.00,244.81 483.25,245.83 483.50,245.76 483.75,246.00 484.00,245.70 484.25,244.89 484.50,244.64 484.75,244.20 485.00,244.89 485.25,245.54 485.50,246.56 485.75,247.21 486.00,246.94 486.25,245.09 486.50,244.07 486.75,242.47 487.00,242.52 487.25,241.87 487.50,243.61 487.75,244.74 488.00,246.76 488.25,246.38 488.50,246.85 488.75,245.94 489.00,245.62 489.25,244.63 489.50,243.65 489.75,243.69 490.00,244.85 490.25,243.71 490.50,243.76 490.75,243.52 491.00,243.66 491.25,243.17 491.50,244.22 491.75,244.55 492.00,244.11 492.25,244.70 492.50,243.78 492.75,244.21 493.00,243.83 493.25,243.19 493.50,242.00 493.75,242.53 494.00,243.12 494.25,243.19 494.50,245.01 494.75,244.59 495.00,245.37 495.25,245.53 495.50,245.36 495.75,245.06 496.00,244.92 496.25,244.57 496.50,245.14 496.75,245.59 497.00,246.53 497.25,247.92 497.50,246.72 497.75,245.85 498.00,244.60 498.25,243.65 498.50,243.49 498.75,244.68 499.00,244.09 499.25,245.13 499.50,244.78 499.75,243.77 500.00,243.25 500.25,242.53 500.50,241.44 500.75,241.12 501.00,241.63 501.25,240.40 501.50,240.00 501.75,239.79 502.00,240.71 502.25,241.29 502.50,243.76 502.75,243.66 503.00,244.27 503.25,244.74 503.50,244.34 503.75,242.85 504.00,244.90 504.25,245.12 504.50,243.79 504.75,243.09 505.00,243.51 505.25,242.61 505.50,241.95 505.75,242.06 506.00,243.25 506.25,243.40 506.50,242.79 506.75,244.07 507.00,245.07 507.25,243.58 507.50,243.01 507.75,243.69 508.00,242.93 508.25,241.19 508.50,242.15 508.75,242.83 509.00,243.58 509.25,242.54 509.50,245.58 509.75,245.04 510.00,245.17 510.25,244.95 510.50,246.98 510.75,245.41 511.00,245.39 511.25,245.17 511.50,243.93 511.75,241.68 512.00,243.40 512.25,244.59 512.50,245.36 512.75,245.23 513.00,247.78 513.25,246.99 513.50,247.53 513.75,246.36 514.00,246.17 514.25,245.12 514.50,242.69 514.75,240.60 515.00,240.68 515.25,240.81 515.50,240.82 515.75,242.16 516.00,244.48 516.25,245.26 516.50,245.86 516.75,246.74 517.00,246.31 517.25,244.86 517.50,244.61 517.75,243.85 518.00,242.89 518.25,242.55 518.50,242.84 518.75,243.30 519.00,243.61 519.25,243.94 519.50,244.21 519.75,243.40 520.00,241.56 520.25,242.97 520.50,244.34 520.75,245.22 521.00,245.50 521.25,246.74 521.50,245.60 521.75,244.60 522.00,244.48 522.25,245.11 522.50,245.05 522.75,244.89 523.00,244.12 523.25,242.83 523.50,242.37 523.75,241.07 524.00,241.35 524.25,241.00 524.50,242.16 524.75,242.74 525.00,242.74 525.25,242.31 525.50,242.32 525.75,242.73 526.00,243.53 526.25,244.99 526.50,245.29 526.75,246.83 527.00,245.38 527.25,245.25 527.50,244.28 527.75,242.73 528.00,243.49 528.25,245.46 528.50,243.84 528.75,244.37 529.00,246.01 529.25,244.38 529.50,242.42 529.75,242.65 530.00,242.84 530.25,243.12 530.50,243.82 530.75,244.82 531.00,246.76 531.25,246.00 531.50,246.03 531.75,244.03 532.00,243.18 532.25,242.53 532.50,242.38 532.75,242.56 533.00,243.74 533.25,243.88 533.50,242.80 533.75,243.08 534.00,242.43 534.25,242.95 534.50,244.03 534.75,243.89 535.00,243.64 535.25,244.13 535.50,243.58 535.75,243.82 536.00,245.89 536.25,247.01 536.50,246.81 536.75,246.76 537.00,245.56 537.25,243.28 537.50,242.09 537.75,241.86 538.00,241.70 538.25,242.72 538.50,243.05 538.75,243.57 539.00,243.04 539.25,244.36 539.50,244.21 539.75,245.61 540.00,245.74 540.25,246.52" fill="none" stroke="#222035" stroke-width="1.35" stroke-linejoin="round"/><polyline points="164.50,247.89 165.00,235.65 165.50,244.48 166.00,242.94 166.50,242.79 167.00,243.15 167.50,239.36 168.00,243.11 168.50,242.50 169.00,250.58 169.50,244.07 170.00,242.86 170.50,243.01 171.00,242.20 171.50,241.38 172.00,242.78 172.50,244.61 173.00,243.10 173.50,245.61 174.00,243.18 174.50,243.65 175.00,246.85 175.50,248.37 176.00,242.54 176.50,241.12 177.00,244.74 177.50,247.66 178.00,239.71 178.50,243.09 179.00,245.70 179.50,241.74 180.00,242.99 180.50,249.91 181.00,243.73 181.50,243.79 182.00,245.01 182.50,237.66 183.00,245.74 183.50,241.58 184.00,240.10 184.50,244.18 185.00,245.07 185.50,242.67 186.00,241.34 186.50,243.65 187.00,243.49 187.50,246.55 188.00,245.17 188.50,241.39 189.00,245.93 189.50,247.81 190.00,241.66 190.50,244.83 191.00,244.82 191.50,243.15 192.00,241.96 192.50,247.23 193.00,238.36 193.50,245.05 194.00,244.63 194.50,240.16 195.00,243.73 195.50,241.58 196.00,245.19 196.50,239.33 197.00,231.21 197.50,243.64 198.00,249.21 198.50,239.07 199.00,245.94 199.50,244.29 200.00,240.34 200.50,246.94 201.00,241.10 201.50,244.34 202.00,241.40 202.50,246.55 203.00,243.55 203.50,242.82 204.00,239.99 204.50,247.13 205.00,251.47 205.50,245.18 206.00,245.99 206.50,244.33 207.00,239.17 207.50,241.92 208.00,241.92 208.50,246.48 209.00,240.53 209.50,242.35 210.00,242.93 210.50,244.07 211.00,244.81 211.50,240.98 212.00,239.97 212.50,243.59 213.00,246.15 213.50,244.34 214.00,244.05 214.50,242.93 215.00,244.22 215.50,243.09 216.00,245.32 216.50,241.93 217.00,244.47 217.50,243.37 218.00,244.74 218.50,244.07 219.00,249.01 219.50,246.75 220.00,246.74 220.50,239.32 221.00,242.88 221.50,245.61 222.00,244.72 222.50,242.95 223.00,246.06 223.50,245.73 224.00,240.85 224.50,241.51 225.00,241.87 225.50,243.63 226.00,244.85 226.50,253.42 227.00,243.01 227.50,244.97 228.00,243.61 228.50,246.88 229.00,241.98 229.50,245.78 230.00,239.71 230.50,242.13 231.00,240.59 231.50,245.21 232.00,243.15 232.50,240.83 233.00,240.22 233.50,241.88 234.00,239.09 234.50,238.32 235.00,241.02 235.50,251.87 236.00,239.01 236.50,238.12 237.00,236.58 237.50,235.94 238.00,239.47 238.50,239.68 239.00,237.79 239.50,241.59 240.00,235.94 240.50,233.46 241.00,230.66 241.50,232.09 242.00,232.66 242.50,230.42 243.00,231.04 243.50,230.63 244.00,231.31 244.50,235.61 245.00,233.95 245.50,235.50 246.00,238.49 246.50,238.64 247.00,241.80 247.50,234.31 248.00,240.81 248.50,238.98 249.00,239.62 249.50,241.22 250.00,241.91 250.50,240.84 251.00,240.57 251.50,244.27 252.00,240.68 252.50,244.43 253.00,244.37 253.50,242.36 254.00,248.93 254.50,247.46 255.00,250.84 255.50,247.20 256.00,247.46 256.50,249.62 257.00,251.82 257.50,250.02 258.00,252.99 258.50,253.03 259.00,257.25 259.50,253.14 260.00,257.28 260.50,254.13 261.00,253.70 261.50,254.31 262.00,253.22 262.50,255.80 263.00,257.29 263.50,254.99 264.00,255.39 264.50,256.88 265.00,253.34 265.50,252.50 266.00,250.83 266.50,247.36 267.00,251.71 267.50,250.75 268.00,250.91 268.50,248.45 269.00,250.40 269.50,247.48 270.00,245.52 270.50,247.65 271.00,245.41 271.50,245.92 272.00,246.12 272.50,245.49 273.00,247.85 273.50,243.57 274.00,244.72 274.50,244.19 275.00,244.42 275.50,242.07 276.00,242.64 276.50,246.98 277.00,240.10 277.50,244.39 278.00,237.60 278.50,241.71 279.00,244.95 279.50,242.78 280.00,239.95 280.50,242.99 281.00,243.11 281.50,243.46 282.00,240.42 282.50,243.98 283.00,250.39 283.50,239.36 284.00,239.74 284.50,240.20 285.00,238.31 285.50,242.21 286.00,243.36 286.50,234.78 287.00,233.94 287.50,234.66 288.00,238.96 288.50,233.36 289.00,233.87 289.50,234.82 290.00,234.06 290.50,239.57 291.00,234.48 291.50,238.10 292.00,237.88 292.50,239.85 293.00,238.55 293.50,244.06 294.00,240.79 294.50,238.00 295.00,239.75 295.50,239.84 296.00,241.48 296.50,240.31 297.00,236.76 297.50,233.94 298.00,229.12 298.50,224.88 299.00,225.63 299.50,221.04 300.00,229.58 300.50,228.55 301.00,240.12 301.50,242.01 302.00,247.67 302.50,248.23 303.00,251.77 303.50,247.58 304.00,247.51 304.50,246.82 305.00,246.46 305.50,242.11 306.00,246.43 306.50,248.04 307.00,243.83 307.50,250.03 308.00,254.69 308.50,252.36 309.00,246.44 309.50,242.92 310.00,244.12 310.50,250.22 311.00,244.62 311.50,250.48 312.00,246.55 312.50,248.95 313.00,247.12 313.50,242.54 314.00,246.34 314.50,252.72 315.00,246.05 315.50,246.32 316.00,250.76 316.50,249.64 317.00,248.61 317.50,252.02 318.00,256.63 318.50,255.18 319.00,259.39 319.50,257.74 320.00,259.38 320.50,257.39 321.00,257.10 321.50,259.44 322.00,260.61 322.50,258.26 323.00,257.51 323.50,253.92 324.00,253.89 324.50,250.68 325.00,249.49 325.50,246.10 326.00,244.33 326.50,243.41 327.00,243.50 327.50,243.18 328.00,246.13 328.50,244.14 329.00,250.23 329.50,245.88 330.00,242.49 330.50,245.38 331.00,244.44 331.50,242.22 332.00,245.95 332.50,242.00 333.00,237.19 333.50,245.28 334.00,242.31 334.50,248.32 335.00,242.24 335.50,241.12 336.00,246.85 336.50,241.34 337.00,244.03 337.50,246.64 338.00,243.83 338.50,243.42 339.00,243.80 339.50,245.34 340.00,241.88 340.50,250.49 341.00,242.59 341.50,248.42 342.00,242.79 342.50,241.54 343.00,244.97 343.50,242.53 344.00,243.90 344.50,243.48 345.00,245.54 345.50,241.58 346.00,242.60 346.50,237.24 347.00,240.50 347.50,245.33 348.00,240.36 348.50,239.97 349.00,238.49 349.50,241.84 350.00,240.52 350.50,239.42 351.00,240.49 351.50,239.07 352.00,239.52 352.50,236.00 353.00,240.41 353.50,237.56 354.00,235.38 354.50,229.10 355.00,233.69 355.50,236.00 356.00,239.35 356.50,235.79 357.00,234.52 357.50,235.70 358.00,234.74 358.50,234.98 359.00,229.01 359.50,233.72 360.00,238.27 360.50,233.69 361.00,234.69 361.50,229.89 362.00,233.10 362.50,232.11 363.00,237.13 363.50,234.78 364.00,233.58 364.50,231.98 365.00,234.60 365.50,238.09 366.00,241.18 366.50,233.81 367.00,244.57 367.50,238.63 368.00,237.85 368.50,244.09 369.00,243.91 369.50,237.47 370.00,238.14 370.50,235.04 371.00,239.94 371.50,237.34 372.00,241.06 372.50,232.37 373.00,237.87 373.50,238.04 374.00,234.75 374.50,234.11 375.00,235.95 375.50,235.18 376.00,232.67 376.50,233.69 377.00,236.79 377.50,238.53 378.00,235.62 378.50,237.18 379.00,239.92 379.50,248.63 380.00,248.00 380.50,248.24 381.00,258.15 381.50,258.97 382.00,262.87 382.50,266.27 383.00,268.15 383.50,269.02 384.00,268.10 384.50,267.09 385.00,261.56 385.50,257.30 386.00,255.67 386.50,257.61 387.00,253.62 387.50,254.70 388.00,251.05 388.50,252.19 389.00,250.58 389.50,245.31 390.00,252.26 390.50,247.08 391.00,248.56 391.50,248.16 392.00,251.38 392.50,246.74 393.00,244.42 393.50,247.61 394.00,246.90 394.50,248.56 395.00,245.79 395.50,247.64 396.00,247.02 396.50,243.68 397.00,244.64 397.50,244.28 398.00,247.92 398.50,249.49 399.00,243.64 399.50,243.70 400.00,238.72 400.50,243.79 401.00,243.57 401.50,239.23 402.00,244.52 402.50,239.41 403.00,242.07 403.50,240.59 404.00,239.49 404.50,243.69 405.00,243.87 405.50,238.51 406.00,238.22 406.50,242.20 407.00,240.63 407.50,237.93 408.00,239.64 408.50,239.84 409.00,239.60 409.50,241.50 410.00,236.60 410.50,243.29 411.00,242.40 411.50,240.89 412.00,241.66 412.50,242.07 413.00,240.59 413.50,235.77 414.00,237.83 414.50,238.90 415.00,240.30 415.50,236.09 416.00,235.88 416.50,234.33 417.00,236.14 417.50,232.17 418.00,226.01 418.50,231.95 419.00,230.80 419.50,233.87 420.00,233.74 420.50,237.83 421.00,240.70 421.50,237.27 422.00,239.52 422.50,240.15 423.00,242.89 423.50,239.69 424.00,241.21 424.50,242.93 425.00,244.39 425.50,243.29 426.00,242.42 426.50,241.70 427.00,244.63 427.50,246.60 428.00,244.26 428.50,243.98 429.00,244.53 429.50,246.63 430.00,247.18 430.50,243.04 431.00,244.22 431.50,243.54 432.00,241.06 432.50,245.99 433.00,247.21 433.50,243.16 434.00,244.66 434.50,244.56 435.00,245.94 435.50,242.43 436.00,248.76 436.50,245.28 437.00,250.05 437.50,248.93 438.00,249.49 438.50,251.62 439.00,255.32 439.50,250.21 440.00,254.80 440.50,254.96 441.00,252.22 441.50,257.90 442.00,255.34 442.50,252.79 443.00,253.90 443.50,240.86 444.00,248.82 444.50,251.64 445.00,249.32 445.50,242.03 446.00,239.29 446.50,243.79 447.00,247.94 447.50,244.49 448.00,244.80 448.50,246.32 449.00,242.97 449.50,245.07 450.00,246.09 450.50,245.23 451.00,244.93 451.50,242.71 452.00,250.63 452.50,242.89 453.00,246.47 453.50,249.09 454.00,242.10 454.50,239.07 455.00,242.73 455.50,251.06 456.00,245.81 456.50,245.87 457.00,241.96 457.50,241.94 458.00,236.14 458.50,241.31 459.00,242.90 459.50,241.76 460.00,241.08 460.50,245.08 461.00,245.23 461.50,245.32 462.00,241.52 462.50,245.00 463.00,243.63 463.50,244.43 464.00,246.19 464.50,243.03 465.00,240.07 465.50,242.07 466.00,242.95 466.50,245.07 467.00,241.89 467.50,246.03 468.00,237.88 468.50,243.13 469.00,240.80 469.50,244.11 470.00,245.05 470.50,236.04 471.00,242.55 471.50,247.06 472.00,244.31 472.50,244.63 473.00,248.67 473.50,246.19 474.00,241.71 474.50,243.57 475.00,243.27 475.50,243.28 476.00,238.64 476.50,245.19 477.00,242.26 477.50,243.94 478.00,243.31 478.50,245.43 479.00,242.98 479.50,241.93 480.00,244.72 480.50,246.55 481.00,242.93 481.50,246.48 482.00,247.76 482.50,236.00 483.00,246.80 483.50,241.06 484.00,245.73 484.50,245.69 485.00,244.55 485.50,241.01 486.00,241.84 486.50,245.84 487.00,244.00 487.50,243.68 488.00,242.68 488.50,244.35 489.00,240.67 489.50,244.52 490.00,240.68 490.50,241.85 491.00,242.13 491.50,243.45 492.00,243.31 492.50,243.13 493.00,247.10 493.50,245.72 494.00,247.95 494.50,243.54 495.00,242.54 495.50,244.19 496.00,242.87 496.50,239.22 497.00,242.37 497.50,245.20 498.00,255.96 498.50,245.63 499.00,241.79 499.50,247.57 500.00,247.68 500.50,245.41 501.00,243.37 501.50,245.40 502.00,249.00 502.50,245.54 503.00,248.93 503.50,250.28 504.00,242.91 504.50,246.40 505.00,247.22 505.50,244.81 506.00,243.76 506.50,240.59 507.00,248.89 507.50,245.47 508.00,243.42 508.50,242.40 509.00,240.64 509.50,244.37 510.00,245.27 510.50,247.74 511.00,244.14 511.50,240.92 512.00,255.83 512.50,243.48 513.00,243.30 513.50,245.14 514.00,239.06 514.50,243.46 515.00,243.31 515.50,244.38 516.00,246.43 516.50,254.17 517.00,239.75 517.50,242.89 518.00,244.03 518.50,240.62 519.00,240.91 519.50,240.11 520.00,244.75 520.50,244.32 521.00,243.56 521.50,239.98 522.00,247.33 522.50,245.00 523.00,242.84 523.50,247.99 524.00,245.07 524.50,244.09 525.00,241.12 525.50,246.45 526.00,240.89 526.50,244.13 527.00,245.86 527.50,241.39 528.00,245.46 528.50,240.63 529.00,242.16 529.50,243.54 530.00,242.73 530.50,244.58 531.00,245.15 531.50,242.98 532.00,245.41 532.50,242.51 533.00,242.83 533.50,245.30 534.00,243.14 534.50,244.46 535.00,243.41 535.50,241.83 536.00,241.05 536.50,241.42 537.00,240.79 537.50,243.75 538.00,241.30 538.50,244.73 539.00,240.27 539.50,242.53 540.00,240.46" fill="none" stroke="#e60c0c" stroke-width="1.15" stroke-linejoin="round"/><line x1="95.2" y1="534.5" x2="95.2" y2="880.2" stroke="#212c2d" stroke-width="3.2"/><line x1="93.6" y1="878.7" x2="623.4" y2="878.7" stroke="#212c2d" stroke-width="2.9"/><g font-family='"Liberation Sans", sans-serif' fill="#000" stroke="#000" stroke-width="0.6"><text x="29.88" y="542.3" font-size="15.4" textLength="52.68" lengthAdjust="spacingAndGlyphs" stroke-width="0.9">3.00E+05</text><text x="29.73" y="656.6" font-size="15.4" textLength="52.83" lengthAdjust="spacingAndGlyphs" stroke-width="0.9">2.00E+05</text><text x="29.41" y="770.8" font-size="15.4" textLength="53.16" lengthAdjust="spacingAndGlyphs" stroke-width="0.9">1.00E+05</text><text x="29.87" y="885.1" font-size="15.4" textLength="52.65" lengthAdjust="spacingAndGlyphs" stroke-width="0.9">0.00E+00</text><text x="91.64" y="908.9" font-size="14.8" textLength="7.33" lengthAdjust="spacingAndGlyphs" stroke-width="0.9">0</text><text x="154.11" y="908.9" font-size="14.8" textLength="14.32" lengthAdjust="spacingAndGlyphs" stroke-width="0.9">50</text><text x="216.44" y="908.9" font-size="14.8" textLength="21.16" lengthAdjust="spacingAndGlyphs" stroke-width="0.9">100</text><text x="282.42" y="908.9" font-size="14.8" textLength="21.16" lengthAdjust="spacingAndGlyphs" stroke-width="0.9">150</text><text x="348.74" y="908.9" font-size="14.8" textLength="20.81" lengthAdjust="spacingAndGlyphs" stroke-width="0.9">200</text><text x="414.72" y="908.9" font-size="14.8" textLength="20.81" lengthAdjust="spacingAndGlyphs" stroke-width="0.9">250</text><text x="480.86" y="908.9" font-size="14.8" textLength="20.66" lengthAdjust="spacingAndGlyphs" stroke-width="0.9">300</text><text x="546.84" y="908.9" font-size="14.8" textLength="20.66" lengthAdjust="spacingAndGlyphs" stroke-width="0.9">350</text><text x="613.01" y="908.9" font-size="14.8" textLength="20.46" lengthAdjust="spacingAndGlyphs" stroke-width="0.9">400</text><text transform="translate(16.6,762.6) rotate(-90)" x="0.56" y="0" font-size="21.0" textLength="94.28" lengthAdjust="spacingAndGlyphs">Amplitude</text><text x="322.92" y="949.6" font-size="21.3" textLength="77.79" lengthAdjust="spacingAndGlyphs">Time (s)</text><text x="477.81" y="580.8" font-size="19.8" textLength="58.03" lengthAdjust="spacingAndGlyphs" stroke-width="1.0">NADH+</text><text x="477.78" y="613.1" font-size="19.8" textLength="54.79" lengthAdjust="spacingAndGlyphs" stroke-width="1.0">NADH-</text><text x="142.06" y="686.4" font-size="20.3" textLength="8.78" lengthAdjust="spacingAndGlyphs" stroke-width="0.8">y</text><text x="153.7" y="686.4" font-size="18.6" textLength="10.82" lengthAdjust="spacingAndGlyphs" stroke-width="0.8">=</text><text x="169.47" y="686.4" font-size="20.3" textLength="60.53" lengthAdjust="spacingAndGlyphs" stroke-width="0.8">27138x</text><text x="233.58" y="686.4" font-size="20.3" textLength="6.14" lengthAdjust="spacingAndGlyphs" stroke-width="0.8">-</text><text x="242.27" y="686.4" font-size="20.3" textLength="63.03" lengthAdjust="spacingAndGlyphs" stroke-width="0.8">483319</text><text x="176.48" y="714.2" font-size="20.3" textLength="20.64" lengthAdjust="spacingAndGlyphs" stroke-width="0.8">R2</text><text x="199.16" y="714.2" font-size="18.6" textLength="10.1" lengthAdjust="spacingAndGlyphs" stroke-width="0.8">=</text><text x="211.87" y="714.2" font-size="20.3" textLength="57.07" lengthAdjust="spacingAndGlyphs" stroke-width="0.8">0.9747</text><text x="348.56" y="807.4" font-size="20.3" textLength="8.58" lengthAdjust="spacingAndGlyphs" stroke-width="0.8">y</text><text x="360.97" y="807.4" font-size="18.6" textLength="11.18" lengthAdjust="spacingAndGlyphs" stroke-width="0.8">=</text><text x="376.88" y="807.4" font-size="20.3" textLength="66.42" lengthAdjust="spacingAndGlyphs" stroke-width="0.8">16.999x</text><text x="446.01" y="807.4" font-size="20.3" textLength="10.7" lengthAdjust="spacingAndGlyphs" stroke-width="0.8">+</text><text x="460.12" y="807.4" font-size="20.3" textLength="55.33" lengthAdjust="spacingAndGlyphs" stroke-width="0.8">1815.9</text><text x="386.69" y="835.9" font-size="20.3" textLength="20.41" lengthAdjust="spacingAndGlyphs" stroke-width="0.8">R2</text><text x="408.94" y="835.9" font-size="18.6" textLength="10.34" lengthAdjust="spacingAndGlyphs" stroke-width="0.8">=</text><text x="421.78" y="835.9" font-size="20.3" textLength="56.73" lengthAdjust="spacingAndGlyphs" stroke-width="0.8">0.7551</text></g><line x1="431.5" y1="572.3" x2="473.2" y2="572.3" stroke="#0d1416" stroke-width="3.4"/><line x1="431.5" y1="604.8" x2="473.2" y2="604.8" stroke="#e60c0c" stroke-width="3.3"/><polyline points="95.50,880.04 96.30,881.47 97.10,881.30 97.90,879.37 98.70,879.58 99.50,879.30 100.30,880.48 101.10,879.77 101.90,880.63 102.70,877.75 103.50,881.48 104.30,879.63 105.10,880.46 105.90,879.53 106.70,879.24 107.50,880.15 108.30,880.52 109.10,879.36 109.90,879.40 110.70,880.29 111.50,878.56 112.30,877.82 113.10,879.90 113.90,878.70 114.70,877.31 115.50,878.50 116.30,878.86 117.10,878.03 117.90,877.68 118.70,879.34 119.50,880.26 120.30,878.99 121.10,878.41 121.90,879.62 122.70,879.96 123.50,878.82 124.30,879.73 125.10,880.25 125.90,878.85 126.70,878.16 127.50,879.41 128.30,879.28 129.10,880.18 129.90,877.51 130.70,878.15 131.50,877.91 132.30,876.88 133.10,878.89 133.90,879.29 134.70,877.85 135.50,880.14 136.30,879.48 137.10,879.22 137.90,878.93 138.70,879.49 139.50,876.93 140.30,879.03 141.10,878.97 141.90,876.32 142.70,878.61 143.50,877.91 144.30,879.00 145.10,877.61 145.90,878.03 146.70,878.38 147.50,877.00 148.30,878.58 149.10,877.76 149.90,878.37 150.70,877.21 151.50,878.94 152.30,878.37 153.10,877.46 153.90,878.31 154.70,878.96 155.50,879.50 156.30,875.75 157.10,878.41 157.90,877.91 158.70,877.25 159.50,876.20 160.30,878.65 161.10,875.83 161.90,877.80 162.70,878.56 163.50,875.33 164.30,876.71 165.10,875.56 165.90,877.22 166.70,878.58 167.50,879.09 168.30,874.86 169.10,876.14 169.90,877.51 170.70,878.42 171.50,877.11 172.30,875.78 173.10,876.88 173.90,876.49 174.70,876.24 175.50,875.61 176.30,876.80 177.10,876.67 177.90,876.18 178.70,876.00 179.50,874.78 180.30,875.62 181.10,877.44 181.90,875.86 182.70,874.44 183.50,877.44 184.30,876.51 185.10,878.21 185.90,875.91 186.70,875.29 187.50,874.16 188.30,877.17 189.10,878.49 189.90,874.72 190.70,874.86 191.50,876.19 192.30,874.57 193.10,875.14 193.90,875.01 194.70,875.56 195.50,876.51 196.30,875.29 197.10,876.23 197.90,874.71 198.70,875.49 199.50,872.73 200.30,873.45 201.10,875.87 201.90,874.29 202.70,875.53 203.50,875.43 204.30,876.23 205.10,875.62 205.90,875.79 206.70,874.49 207.50,873.79 208.30,873.70 209.10,873.91 209.90,873.15 210.70,873.74 211.50,874.19 212.30,874.51 213.10,873.81 213.90,872.01 214.70,873.99 215.50,874.26 216.30,875.15 217.10,874.54 217.90,873.14 218.70,873.00 219.50,875.95 220.30,874.52 221.10,875.65 221.90,875.92 222.70,872.62 223.50,873.89 224.30,873.92 225.10,873.98 225.90,873.90 226.70,873.47 227.50,873.39 228.30,871.49 229.10,872.91 229.90,872.21 230.70,873.12 231.50,872.41 232.30,873.55 233.10,873.72 233.90,873.10 234.70,873.05 235.50,872.75 236.30,872.10 237.10,872.36 237.90,871.94 238.70,872.86 239.50,872.39 240.30,872.96 241.10,870.84 241.90,873.27 242.70,871.45 243.50,871.48 244.30,872.07 245.10,871.66 245.90,872.60 246.70,871.65 247.50,871.10 248.30,871.34 249.10,873.71 249.90,872.31 250.70,870.98 251.50,872.27 252.30,870.54 253.10,874.22 253.90,870.57 254.70,872.77 255.50,872.84 256.30,870.65 257.10,872.57 257.90,873.33 258.70,872.75 259.50,872.52 260.30,873.27 261.10,872.40 261.90,872.59 262.70,872.08 263.50,872.91 264.30,871.17 265.10,873.08 265.90,871.65 266.70,871.00 267.50,872.60 268.30,874.06 269.10,873.25 269.90,871.62 270.70,872.95 271.50,871.68 272.30,872.04 273.10,872.28 273.90,869.63 274.70,872.38 275.50,871.04 276.30,871.40 277.10,870.54 277.90,870.49 278.70,871.12 279.50,873.06 280.30,873.98 281.10,872.12 281.90,873.34 282.70,871.85 283.50,870.03 284.30,872.30 285.10,872.62 285.90,871.66 286.70,872.46 287.50,872.75 288.30,871.17 289.10,870.49 289.90,871.87 290.70,871.88 291.50,871.72 292.30,873.19 293.10,874.00 293.90,871.64 294.70,872.86 295.50,873.13 296.30,872.87 297.10,873.24 297.90,871.65 298.70,872.89 299.50,874.30 300.30,872.96 301.10,871.39 301.90,872.74 302.70,873.45 303.50,872.47 304.30,871.44 305.10,873.75 305.90,870.68 306.70,872.60 307.50,872.03 308.30,870.73 309.10,873.38 309.90,872.42 310.70,870.75 311.50,872.69 312.30,871.55 313.10,869.93 313.90,871.26 314.70,872.31 315.50,872.72 316.30,872.20 317.10,872.06 317.90,872.52 318.70,871.77 319.50,873.30 320.30,872.17 321.10,872.33 321.90,872.61 322.70,870.86 323.50,871.25 324.30,873.72 325.10,872.41 325.90,871.74 326.70,872.43 327.50,871.53 328.30,872.37 329.10,871.34 329.90,872.38 330.70,870.35 331.50,873.55 332.30,871.53 333.10,870.36 333.90,871.86 334.70,871.70 335.50,872.29 336.30,870.87 337.10,872.57 337.90,876.12 338.70,870.74 339.50,872.52 340.30,871.81 341.10,872.37 341.90,870.17 342.70,870.91 343.50,872.69 344.30,872.14 345.10,873.99 345.90,871.42 346.70,872.40 347.50,875.41 348.30,871.37 349.10,871.23 349.90,872.19 350.70,872.19 351.50,873.17 352.30,872.39 353.10,871.42 353.90,872.49 354.70,875.17 355.50,873.67 356.30,869.22 357.10,872.13 357.90,871.33 358.70,872.98 359.50,872.11 360.30,874.43 361.10,873.34 361.90,873.30 362.70,872.53 363.50,872.29 364.30,872.71 365.10,873.77 365.90,872.94 366.70,871.97 367.50,873.76 368.30,872.58 369.10,872.29 369.90,871.51 370.70,871.76 371.50,871.69 372.30,869.33 373.10,873.52 373.90,873.03 374.70,872.18 375.50,873.57 376.30,872.91 377.10,872.84 377.90,869.72 378.70,872.19 379.50,873.04 380.30,874.23 381.10,874.49 381.90,874.04 382.70,871.20 383.50,870.07 384.30,873.12 385.10,872.53 385.90,873.56 386.70,872.37 387.50,872.76 388.30,870.87 389.10,873.02 389.90,872.05 390.70,872.93 391.50,873.06 392.30,872.43 393.10,872.92 393.90,872.56 394.70,873.42 395.50,873.14 396.30,872.00 397.10,871.96 397.90,874.53 398.70,872.51 399.50,873.72 400.30,873.07 401.10,872.02 401.90,871.83 402.70,872.79 403.50,872.95 404.30,873.35 405.10,871.29 405.90,872.04 406.70,872.59 407.50,874.47 408.30,870.12 409.10,873.20 409.90,872.13 410.70,873.21 411.50,872.20 412.30,873.15 413.10,874.48 413.90,873.16 414.70,873.25 415.50,873.19 416.30,871.96 417.10,873.39 417.90,872.58 418.70,871.92 419.50,872.78 420.30,872.58 421.10,873.66 421.90,872.79 422.70,872.27 423.50,874.46 424.30,873.95 425.10,874.27 425.90,873.55 426.70,872.77 427.50,872.43 428.30,872.60 429.10,873.95 429.90,873.04 430.70,871.29 431.50,872.89 432.30,871.38 433.10,873.13 433.90,871.63 434.70,871.57 435.50,873.10 436.30,872.89 437.10,871.16 437.90,873.82 438.70,875.38 439.50,871.38 440.30,875.02 441.10,872.27 441.90,872.49 442.70,872.84 443.50,871.46 444.30,874.48 445.10,873.60 445.90,872.24 446.70,872.77 447.50,871.42 448.30,872.71 449.10,874.13 449.90,871.22 450.70,872.64 451.50,873.28 452.30,874.28 453.10,874.62 453.90,872.64 454.70,872.34 455.50,873.66 456.30,872.77 457.10,872.83 457.90,874.37 458.70,875.05 459.50,873.49 460.30,872.99 461.10,873.84 461.90,871.14 462.70,873.21 463.50,872.07 464.30,875.87 465.10,874.04 465.90,873.41 466.70,873.05 467.50,870.51 468.30,874.07 469.10,875.08 469.90,872.50 470.70,874.06 471.50,874.11 472.30,871.62 473.10,874.36 473.90,874.82 474.70,873.59 475.50,873.28 476.30,874.22 477.10,871.67 477.90,873.48 478.70,874.54 479.50,872.02 480.30,874.49 481.10,872.94 481.90,871.12 482.70,873.30 483.50,872.36 484.30,873.78 485.10,872.15 485.90,874.60 486.70,872.64 487.50,873.86 488.30,872.82 489.10,873.12 489.90,874.80 490.70,873.73 491.50,873.07 492.30,872.13 493.10,874.78 493.90,874.31 494.70,873.15 495.50,873.78 496.30,872.38 497.10,872.40 497.90,872.60 498.70,873.90 499.50,873.84 500.30,872.70 501.10,874.33 501.90,874.39 502.70,873.71 503.50,874.67 504.30,873.21 505.10,873.40 505.90,874.05 506.70,873.49 507.50,874.41 508.30,872.16 509.10,875.11 509.90,872.68 510.70,873.36 511.50,872.03 512.30,874.20 513.10,874.95 513.90,874.73 514.70,874.47 515.50,871.84 516.30,872.69 517.10,873.05 517.90,872.53 518.70,874.79 519.50,873.76 520.30,873.53 521.10,874.10 521.90,872.52 522.70,872.57 523.50,872.60 524.30,874.12 525.10,873.95 525.90,874.21 526.70,874.76 527.50,872.08 528.30,872.96 529.10,873.74 529.90,872.10 530.70,873.00 531.50,874.70 532.30,874.80 533.10,874.77 533.90,873.64 534.70,873.36 535.50,874.78 536.30,873.18 537.10,873.97 537.90,875.06" fill="none" stroke="#e60c0c" stroke-width="2.4" stroke-linejoin="round"/><line x1="95.5" y1="876.6" x2="538.4" y2="871.3" stroke="#000" stroke-width="4.2" stroke-dasharray="7.8 2.5"/><path d="M96.4,880.0L97.0,879.9L97.6,880.0M97.4,879.9L98.0,881.2L98.6,879.9M98.4,879.9L99.0,881.3L99.6,879.9M106.4,879.7L107.0,877.3L107.6,879.7M108.4,879.6L109.0,880.2L109.6,879.6M110.4,879.5L111.0,882.8L111.6,879.5M112.4,879.5L113.0,878.8L113.6,879.5M113.4,879.4L114.0,881.4L114.6,879.4M115.4,879.4L116.0,880.9L116.6,879.4M118.4,879.3L119.0,877.2L119.6,879.3M119.4,879.3L120.0,874.8L120.6,879.3M120.4,879.2L121.0,874.9L121.6,879.2M121.4,879.2L122.0,874.7L122.6,879.2M125.4,879.1L126.0,881.2L126.6,879.1M126.4,879.0L127.0,878.2L127.6,879.0M130.4,878.9L131.0,879.8L131.6,878.9M131.4,878.8L132.0,883.0L132.6,878.8M134.4,878.6L135.0,878.8L135.6,878.6M139.4,878.4L140.0,881.7L140.6,878.4M147.4,877.9L148.0,874.6L148.6,877.9M148.4,877.9L149.0,875.2L149.6,877.9M149.4,877.8L150.0,877.3L150.6,877.8M153.4,877.6L154.0,879.0L154.6,877.6M154.4,877.6L155.0,876.3L155.6,877.6M158.4,877.3L159.0,875.6L159.6,877.3M159.4,877.3L160.0,878.2L160.6,877.3M160.4,877.2L161.0,875.9L161.6,877.2M162.4,877.1L163.0,872.6L163.6,877.1M166.4,876.9L167.0,877.9L167.6,876.9M172.4,876.6L173.0,877.0L173.6,876.6M174.4,876.4L175.0,872.4L175.6,876.4M178.4,876.2L179.0,878.4L179.6,876.2M179.4,876.2L180.0,878.4L180.6,876.2M180.4,876.1L181.0,878.2L181.6,876.1M182.4,876.0L183.0,873.7L183.6,876.0M183.4,875.9L184.0,871.4L184.6,875.9M184.4,875.9L185.0,874.9L185.6,875.9M185.4,875.8L186.0,872.6L186.6,875.8M198.4,875.1L199.0,876.0L199.6,875.1M201.4,874.9L202.0,874.0L202.6,874.9M203.4,874.8L204.0,875.9L204.6,874.8M205.4,874.7L206.0,874.7L206.6,874.7M206.4,874.6L207.0,876.3L207.6,874.6M208.4,874.5L209.0,875.3L209.6,874.5M210.4,874.3L211.0,872.9L211.6,874.3M213.4,874.1L214.0,872.6L214.6,874.1M216.4,873.9L217.0,877.3L217.6,873.9M218.4,873.8L219.0,875.0L219.6,873.8M219.4,873.7L220.0,876.2L220.6,873.7M224.4,873.4L225.0,873.8L225.6,873.4M225.4,873.3L226.0,872.5L226.6,873.3M226.4,873.2L227.0,875.8L227.6,873.2M227.4,873.2L228.0,873.4L228.6,873.2M229.4,873.0L230.0,871.7L230.6,873.0M230.4,873.0L231.0,875.2L231.6,873.0M232.4,872.8L233.0,871.3L233.6,872.8M235.4,872.6L236.0,870.9L236.6,872.6M238.4,872.4L239.0,872.7L239.6,872.4M239.4,872.3L240.0,871.5L240.6,872.3M244.4,872.3L245.0,870.8L245.6,872.3M249.4,872.3L250.0,872.7L250.6,872.3M250.4,872.3L251.0,869.9L251.6,872.3M252.4,872.3L253.0,870.3L253.6,872.3M254.4,872.2L255.0,874.0L255.6,872.2M255.4,872.2L256.0,869.6L256.6,872.2M256.4,872.2L257.0,869.1L257.6,872.2M259.4,872.2L260.0,870.5L260.6,872.2M260.4,872.2L261.0,876.7L261.6,872.2M261.4,872.2L262.0,869.0L262.6,872.2M263.4,872.2L264.0,869.2L264.6,872.2M267.4,872.2L268.0,870.1L268.6,872.2M268.4,872.2L269.0,875.3L269.6,872.2M271.4,872.2L272.0,876.7L272.6,872.2M273.4,872.2L274.0,871.8L274.6,872.2M276.4,872.2L277.0,868.7L277.6,872.2M278.4,872.2L279.0,871.2L279.6,872.2M282.4,872.1L283.0,873.9L283.6,872.1M283.4,872.1L284.0,875.2L284.6,872.1M289.4,872.1L290.0,871.6L290.6,872.1M294.4,872.1L295.0,872.6L295.6,872.1M296.4,872.1L297.0,872.4L297.6,872.1M298.4,872.1L299.0,873.4L299.6,872.1M300.4,872.1L301.0,872.7L301.6,872.1M303.4,872.1L304.0,872.7L304.6,872.1M311.4,872.0L312.0,867.6L312.6,872.0M314.4,872.0L315.0,872.1L315.6,872.0M315.4,872.0L316.0,874.8L316.6,872.0M317.4,872.0L318.0,873.5L318.6,872.0M321.4,872.0L322.0,871.9L322.6,872.0M322.4,872.0L323.0,874.7L323.6,872.0M327.4,872.1L328.0,876.6L328.6,872.1M328.4,872.1L329.0,872.8L329.6,872.1M329.4,872.1L330.0,873.7L330.6,872.1M330.4,872.1L331.0,873.2L331.6,872.1M331.4,872.1L332.0,868.2L332.6,872.1M332.4,872.1L333.0,868.9L333.6,872.1M333.4,872.1L334.0,869.1L334.6,872.1M339.4,872.2L340.0,869.7L340.6,872.2M343.4,872.2L344.0,876.7L344.6,872.2M344.4,872.2L345.0,876.7L345.6,872.2M346.4,872.2L347.0,873.2L347.6,872.2M347.4,872.2L348.0,872.5L348.6,872.2M350.4,872.2L351.0,873.5L351.6,872.2M353.4,872.3L354.0,869.5L354.6,872.3M354.4,872.3L355.0,869.7L355.6,872.3M355.4,872.3L356.0,868.2L356.6,872.3M358.4,872.3L359.0,870.6L359.6,872.3M362.4,872.3L363.0,868.5L363.6,872.3M365.4,872.4L366.0,870.7L366.6,872.4M370.4,872.4L371.0,872.6L371.6,872.4M377.4,872.4L378.0,874.5L378.6,872.4M384.4,872.5L385.0,872.6L385.6,872.5M385.4,872.5L386.0,876.3L386.6,872.5M386.4,872.5L387.0,874.9L387.6,872.5M388.4,872.5L389.0,873.9L389.6,872.5M392.4,872.6L393.0,873.9L393.6,872.6M397.4,872.6L398.0,872.6L398.6,872.6M401.4,872.7L402.0,872.3L402.6,872.7M407.4,872.7L408.0,871.7L408.6,872.7M411.4,872.7L412.0,870.1L412.6,872.7M413.4,872.8L414.0,873.8L414.6,872.8M416.4,872.8L417.0,871.9L417.6,872.8M419.4,872.8L420.0,869.8L420.6,872.8M428.4,872.9L429.0,874.3L429.6,872.9M430.4,872.9L431.0,874.0L431.6,872.9M432.4,872.9L433.0,868.4L433.6,872.9M434.4,873.0L435.0,872.8L435.6,873.0M435.4,873.0L436.0,869.7L436.6,873.0M442.4,873.0L443.0,877.5L443.6,873.0M444.4,873.1L445.0,873.8L445.6,873.1M445.4,873.1L446.0,872.9L446.6,873.1M448.4,873.1L449.0,876.7L449.6,873.1M453.4,873.1L454.0,872.6L454.6,873.1M456.4,873.2L457.0,873.7L457.6,873.2M459.4,873.2L460.0,872.7L460.6,873.2M461.4,873.2L462.0,873.8L462.6,873.2M462.4,873.2L463.0,874.3L463.6,873.2M465.4,873.3L466.0,872.6L466.6,873.3M467.4,873.3L468.0,873.0L468.6,873.3M469.4,873.3L470.0,872.1L470.6,873.3M475.4,873.4L476.0,874.8L476.6,873.4M477.4,873.4L478.0,874.1L478.6,873.4M478.4,873.4L479.0,870.7L479.6,873.4M479.4,873.4L480.0,872.5L480.6,873.4M489.4,873.5L490.0,872.6L490.6,873.5M490.4,873.5L491.0,873.0L491.6,873.5M492.4,873.5L493.0,873.0L493.6,873.5M499.4,873.5L500.0,872.8L500.6,873.5M500.4,873.5L501.0,872.6L501.6,873.5M503.4,873.5L504.0,871.0L504.6,873.5M504.4,873.5L505.0,871.8L505.6,873.5M510.4,873.5L511.0,871.9L511.6,873.5M514.4,873.5L515.0,870.1L515.6,873.5M521.4,873.6L522.0,876.2L522.6,873.6M534.4,873.6L535.0,872.2L535.6,873.6M536.4,873.6L537.0,872.4L537.6,873.6" fill="none" stroke="#e60c0c" stroke-width="1.15" stroke-linejoin="round"/><rect x="533" y="867.5" width="5.5" height="5" fill="#000"/><line x1="128.0" y1="656" x2="119.4" y2="822" stroke="#000" stroke-width="3.9" stroke-dasharray="5 3"/><polyline points="127.9,664 127.6,668 126.9,675 126.3,685 125.9,695 125.2,702 124.9,705 124.3,715 123.9,725 123.6,735 123.5,745 122.6,755 121.9,764.5 121.6,775 121.5,784.4 121.1,795 120.7,805 120.4,815 120.1,826.5" fill="none" stroke="#000" stroke-width="3.6" stroke-linejoin="round" stroke-linecap="round"/></g></svg>
</body></html>
